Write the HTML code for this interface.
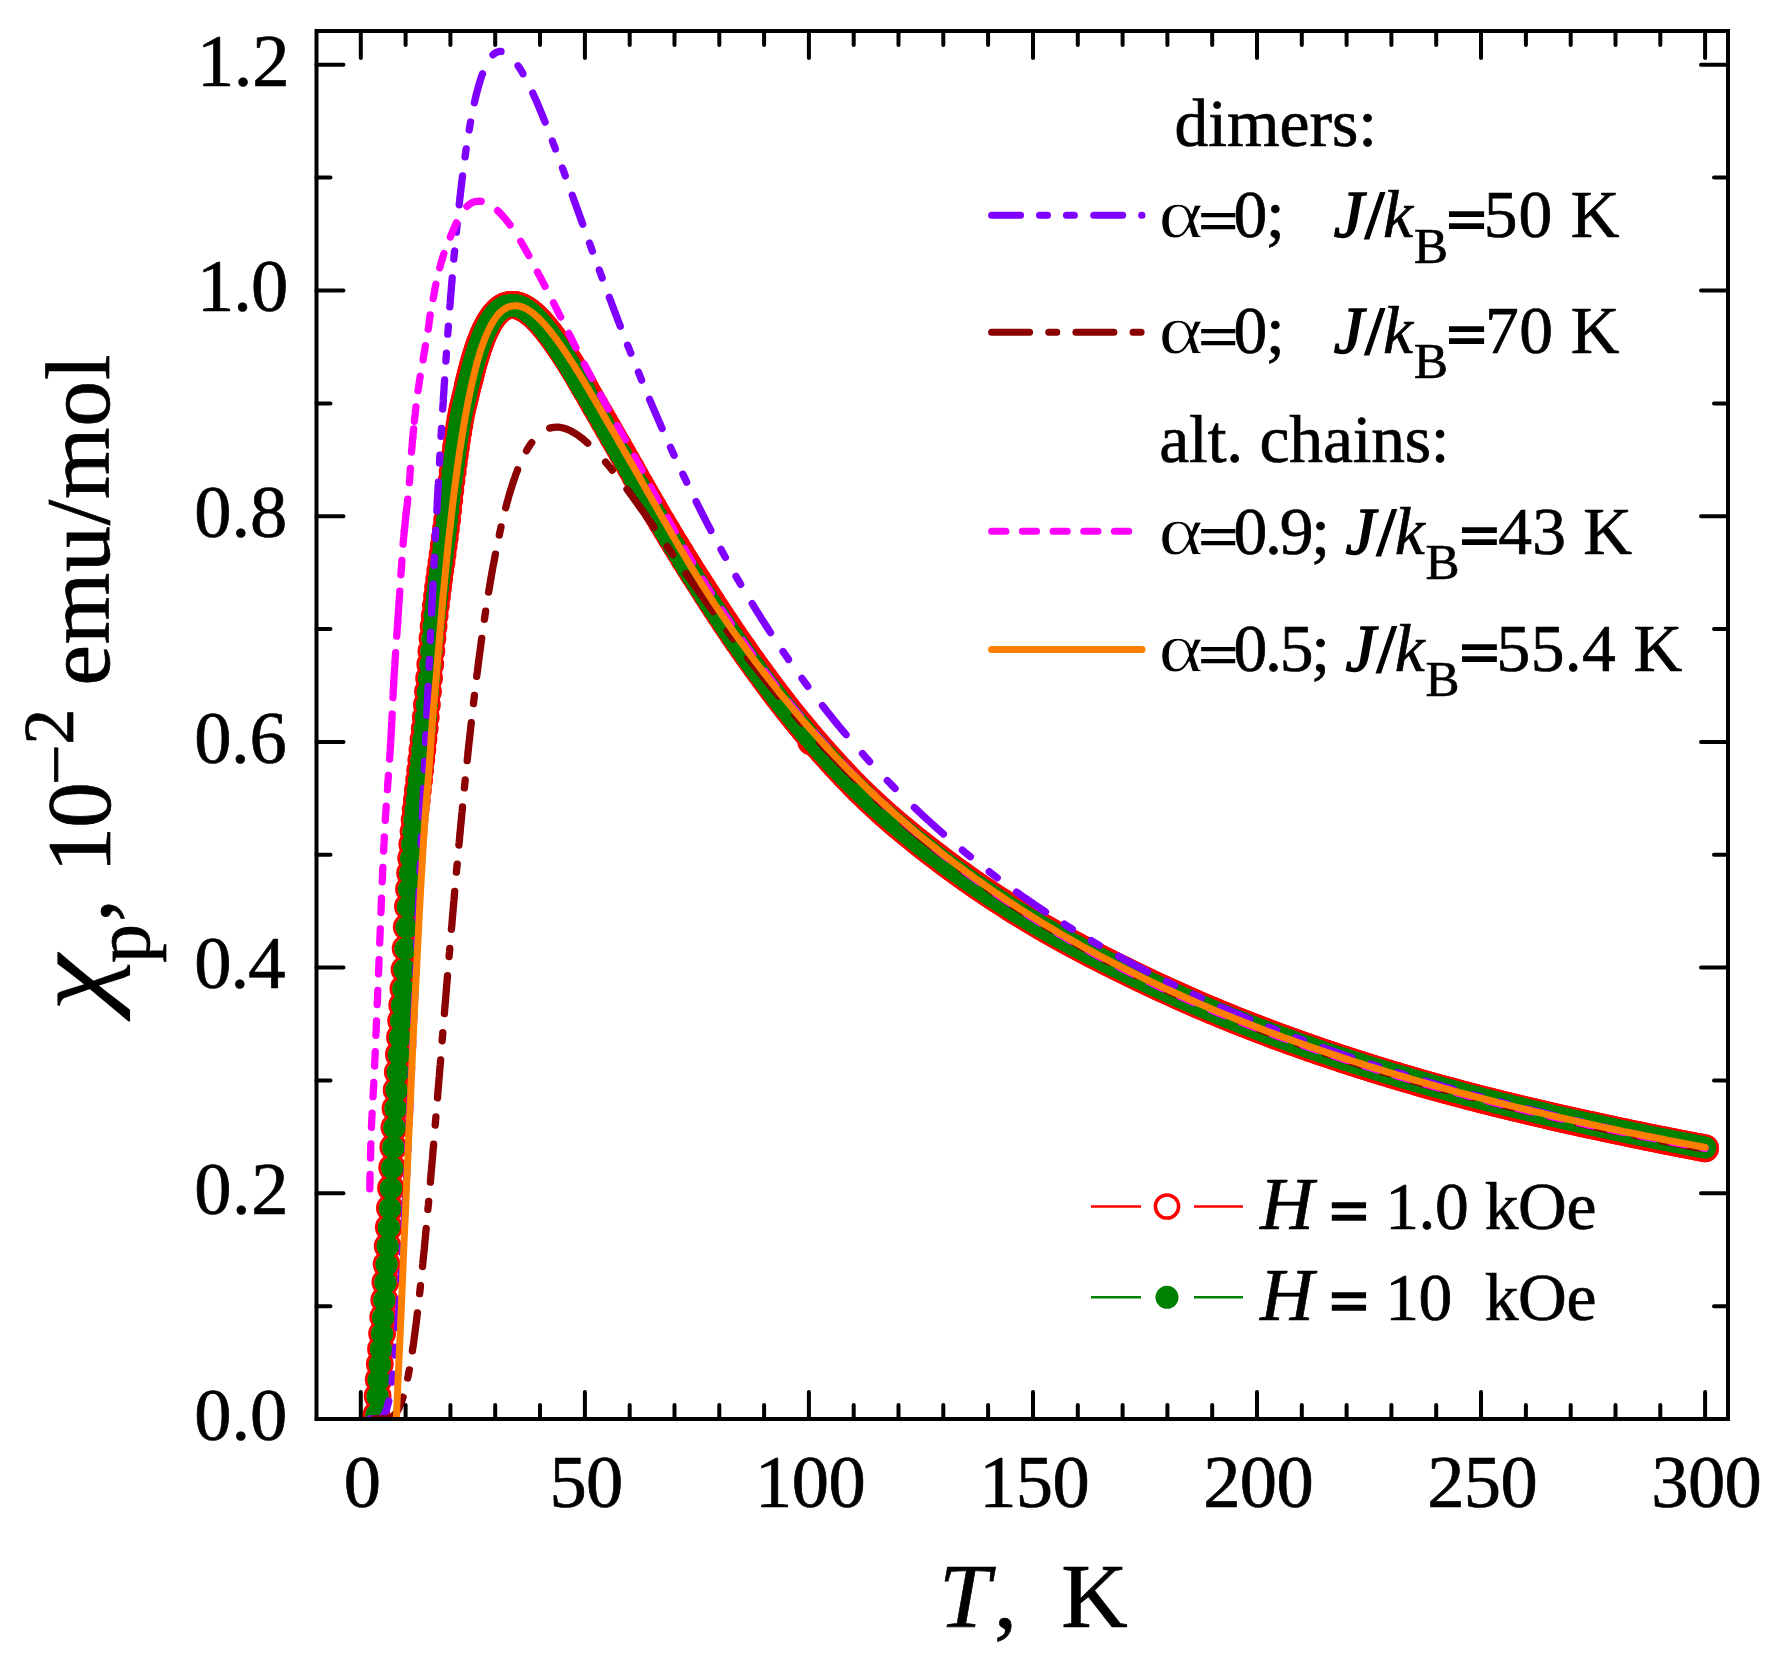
<!DOCTYPE html>
<html><head><meta charset="utf-8"><title>chi(T)</title>
<style>
html,body{margin:0;padding:0;background:#fff}
svg{display:block}
text{font-family:"Liberation Serif","DejaVu Serif",serif;fill:#000;stroke:#000;stroke-width:0.7px;stroke-linejoin:miter}
.tk{font-size:74px}
.lg{font-size:64.5px}
.hl{font-size:68px}
.ax{font-size:92px}
.i{font-style:italic}
</style></head><body>
<svg width="1784" height="1662" viewBox="0 0 1784 1662">
<rect width="1784" height="1662" fill="#fff"/>
<defs><clipPath id="cp"><rect x="316.5" y="31.0" width="1411.5" height="1388.0"/></clipPath></defs>

<g clip-path="url(#cp)">
<path d="M468.3,383.9 L469.5,379.2 L470.6,374.7 L471.7,370.3 L472.8,366.1 L473.9,362.1 L475.1,358.2 L476.2,354.5 L477.3,351.0 L478.4,347.6 L479.5,344.4 L480.7,341.3 L481.8,338.4 L482.9,335.6 L484.0,333.0 L485.1,330.5 L486.3,328.2 L487.4,326.0 L488.5,323.9 L489.6,322.0 L490.7,320.2 L491.9,318.5 L493.0,316.9 L494.1,315.4 L495.2,314.0 L496.4,312.8 L497.5,311.6 L498.6,310.5 L499.7,309.6 L500.8,308.7 L502.0,308.0 L503.1,307.3 L504.2,306.7 L505.3,306.2 L506.4,305.8 L507.6,305.5 L508.7,305.3 L509.8,305.1 L510.9,305.0 L512.0,304.9 L513.2,304.9 L514.3,305.0 L515.4,305.1 L516.5,305.4 L517.6,305.6 L518.8,306.0 L519.9,306.4 L521.0,306.9 L522.1,307.4 L523.3,308.0 L524.4,308.6 L525.6,309.3 L526.7,310.0 L527.9,310.8 L529.0,311.6 L530.1,312.5 L531.3,313.4 L532.4,314.4 L533.6,315.4 L534.7,316.4 L535.9,317.5 L537.0,318.6 L538.2,319.8 L539.3,321.0 L540.5,322.2 L541.6,323.5 L542.8,324.8 L543.9,326.1 L545.1,327.5 L546.2,328.9 L547.4,330.3 L548.5,331.8 L549.7,333.3 L550.8,334.8 L551.9,336.3 L553.1,337.8 L554.2,339.4 L555.4,341.0 L556.5,342.6 L557.7,344.3 L558.8,345.9 L560.0,347.6 L561.1,349.3 L562.3,351.0 L563.4,352.7 L564.6,354.5 L565.7,356.2 L566.9,358.0 L568.0,359.8 L569.2,361.6 L570.3,363.4 L571.5,365.3 L572.6,367.1 L573.7,369.0 L574.9,370.8 L576.0,372.7 L577.2,374.6 L578.3,376.5 L579.4,378.4 L580.5,380.4 L581.7,382.3 L582.8,384.2 L583.9,386.2 L585.0,388.2 L586.1,390.1 L590.6,398.0 L595.1,405.9 L599.6,413.7 L604.1,421.5 L608.6,429.3 L613.0,437.0 L617.5,444.8 L622.0,452.7 L626.5,460.5 L631.0,468.4 L635.4,476.4 L639.9,484.2 L644.4,492.1 L648.9,499.9 L653.4,507.6 L657.8,515.3 L662.3,522.9 L666.8,530.4 L671.3,537.9 L675.8,545.2 L680.3,552.5 L684.7,559.9 L689.2,567.0 L693.7,574.1 L698.2,581.1 L702.7,588.0 L707.1,595.0 L711.6,601.9 L716.0,608.7 L720.5,615.5 L724.9,622.2 L729.4,628.8 L733.8,635.4 L738.2,641.9 L742.7,648.2 L747.1,654.6 L751.6,660.8 L756.0,667.0 L760.5,673.2 L764.9,679.2 L769.4,685.3 L773.8,691.2 L778.2,697.0 L782.7,702.8 L787.1,708.5 L791.6,714.1 L796.0,719.6 L800.5,725.0 L804.9,730.4 L809.3,735.6 L813.8,740.8 L818.2,746.0 L822.7,751.1 L827.1,756.0 L831.6,761.0 L836.0,765.9 L840.5,770.6 L844.9,775.4 L849.3,780.0 L853.8,784.6 L858.2,789.1 L862.7,793.5 L867.2,797.8 L871.6,802.0 L876.1,806.2 L880.6,810.3 L885.1,814.3 L889.6,818.2 L894.0,822.1 L898.5,825.9 L903.0,829.6 L907.5,833.4 L912.0,837.0 L916.4,840.6 L920.9,844.2 L925.4,847.7 L929.9,851.2 L934.4,854.6 L938.8,858.0 L943.3,861.5 L947.8,864.8 L952.3,868.1 L956.8,871.4 L961.3,874.6 L965.7,877.8 L970.2,881.0 L974.7,884.1 L979.2,887.2 L983.7,890.2 L988.1,893.2 L992.6,896.2 L997.1,899.1 L1001.6,902.0 L1006.1,904.9 L1010.5,907.8 L1015.0,910.6 L1019.5,913.4 L1024.0,916.1 L1028.5,918.8 L1033.0,921.5 L1037.4,924.2 L1041.9,926.8 L1046.4,929.4 L1050.9,932.0 L1055.4,934.5 L1059.8,937.0 L1064.3,939.5 L1068.8,941.9 L1073.3,944.3 L1077.8,946.7 L1082.2,949.1 L1086.7,951.5 L1091.2,953.8 L1095.7,956.1 L1100.2,958.4 L1104.6,960.7 L1109.1,962.9 L1113.6,965.2 L1118.1,967.4 L1122.6,969.6 L1127.1,971.8 L1131.5,974.0 L1136.0,976.2 L1140.5,978.3 L1145.0,980.5 L1149.5,982.6 L1153.9,984.7 L1158.4,986.8 L1162.9,988.9 L1167.4,990.9 L1171.9,993.0 L1176.3,995.0 L1180.8,997.0 L1185.3,999.0 L1189.8,1001.0 L1194.3,1003.0 L1198.7,1004.9 L1203.2,1006.8 L1207.7,1008.7 L1212.2,1010.6 L1216.7,1012.5 L1221.2,1014.3 L1225.6,1016.2 L1230.1,1018.0 L1234.6,1019.8 L1239.1,1021.6 L1243.6,1023.4 L1248.0,1025.1 L1252.5,1026.9 L1257.0,1028.6 L1261.5,1030.3 L1266.0,1032.0 L1270.4,1033.7 L1274.9,1035.4 L1279.4,1037.1 L1283.9,1038.7 L1288.4,1040.3 L1292.8,1041.9 L1297.3,1043.5 L1301.8,1045.1 L1306.3,1046.7 L1310.8,1048.3 L1315.3,1049.8 L1319.7,1051.4 L1324.2,1052.9 L1328.7,1054.4 L1333.2,1055.9 L1337.7,1057.4 L1342.1,1058.9 L1346.6,1060.3 L1351.1,1061.8 L1355.6,1063.2 L1360.1,1064.7 L1364.5,1066.1 L1369.0,1067.5 L1373.5,1068.9 L1378.0,1070.3 L1382.5,1071.7 L1386.9,1073.0 L1391.4,1074.4 L1395.9,1075.7 L1400.4,1077.1 L1404.9,1078.4 L1409.4,1079.7 L1413.8,1081.0 L1418.3,1082.3 L1422.8,1083.6 L1427.3,1084.9 L1431.8,1086.1 L1436.2,1087.4 L1440.7,1088.6 L1445.2,1089.8 L1449.7,1091.0 L1454.2,1092.2 L1458.6,1093.4 L1463.1,1094.6 L1467.6,1095.8 L1472.1,1096.9 L1476.6,1098.1 L1481.0,1099.3 L1485.5,1100.4 L1490.0,1101.5 L1494.5,1102.7 L1499.0,1103.8 L1503.5,1104.9 L1507.9,1106.0 L1512.4,1107.1 L1516.9,1108.2 L1521.4,1109.2 L1525.9,1110.3 L1530.3,1111.4 L1534.8,1112.4 L1539.3,1113.5 L1543.8,1114.5 L1548.3,1115.6 L1552.7,1116.6 L1557.2,1117.6 L1561.7,1118.6 L1566.2,1119.6 L1570.7,1120.6 L1575.2,1121.6 L1579.6,1122.6 L1584.1,1123.6 L1588.6,1124.6 L1593.1,1125.5 L1597.6,1126.5 L1602.0,1127.5 L1606.5,1128.4 L1611.0,1129.4 L1615.5,1130.3 L1620.0,1131.3 L1624.4,1132.2 L1628.9,1133.2 L1633.4,1134.1 L1637.9,1135.0 L1642.4,1135.9 L1646.8,1136.8 L1651.3,1137.8 L1655.8,1138.7 L1660.3,1139.6 L1664.8,1140.5 L1669.3,1141.4 L1673.7,1142.2 L1678.2,1143.1 L1682.7,1144.0 L1687.2,1144.9 L1691.7,1145.7 L1696.1,1146.6 L1700.6,1147.5 L1705.1,1148.3" fill="none" stroke="#ff0000" stroke-width="27.8" stroke-linecap="round" stroke-linejoin="round"/>
<g fill="none" stroke="#ff0000" stroke-width="3">
<circle cx="376.5" cy="1414.5" r="12.4"/>
<circle cx="377.6" cy="1396.1" r="12.4"/>
<circle cx="378.7" cy="1379.6" r="12.4"/>
<circle cx="379.8" cy="1364.1" r="12.4"/>
<circle cx="381.0" cy="1349.0" r="12.4"/>
<circle cx="382.1" cy="1333.5" r="12.4"/>
<circle cx="383.2" cy="1317.0" r="12.4"/>
<circle cx="384.3" cy="1299.8" r="12.4"/>
<circle cx="385.4" cy="1282.2" r="12.4"/>
<circle cx="386.6" cy="1264.3" r="12.4"/>
<circle cx="387.7" cy="1246.0" r="12.4"/>
<circle cx="388.8" cy="1227.3" r="12.4"/>
<circle cx="389.9" cy="1208.1" r="12.4"/>
<circle cx="391.0" cy="1188.1" r="12.4"/>
<circle cx="392.2" cy="1167.6" r="12.4"/>
<circle cx="393.3" cy="1147.1" r="12.4"/>
<circle cx="394.4" cy="1127.3" r="12.4"/>
<circle cx="395.5" cy="1108.4" r="12.4"/>
<circle cx="396.6" cy="1090.0" r="12.4"/>
<circle cx="397.8" cy="1072.0" r="12.4"/>
<circle cx="398.9" cy="1054.4" r="12.4"/>
<circle cx="400.0" cy="1037.2" r="12.4"/>
<circle cx="401.1" cy="1020.6" r="12.4"/>
<circle cx="402.2" cy="1005.1" r="12.4"/>
<circle cx="403.4" cy="988.7" r="12.4"/>
<circle cx="404.5" cy="969.6" r="12.4"/>
<circle cx="405.6" cy="948.5" r="12.4"/>
<circle cx="406.7" cy="927.0" r="12.4"/>
<circle cx="407.9" cy="906.6" r="12.4"/>
<circle cx="409.0" cy="889.0" r="12.4"/>
<circle cx="410.1" cy="873.1" r="12.4"/>
<circle cx="411.2" cy="858.3" r="12.4"/>
<circle cx="412.3" cy="844.4" r="12.4"/>
<circle cx="413.5" cy="831.5" r="12.4"/>
<circle cx="414.6" cy="819.7" r="12.4"/>
<circle cx="415.7" cy="809.4" r="12.4"/>
<circle cx="416.8" cy="799.9" r="12.4"/>
<circle cx="417.9" cy="790.0" r="12.4"/>
<circle cx="419.1" cy="780.0" r="12.4"/>
<circle cx="420.2" cy="770.1" r="12.4"/>
<circle cx="421.3" cy="760.1" r="12.4"/>
<circle cx="422.4" cy="749.8" r="12.4"/>
<circle cx="423.5" cy="739.3" r="12.4"/>
<circle cx="424.7" cy="728.5" r="12.4"/>
<circle cx="425.8" cy="717.1" r="12.4"/>
<circle cx="426.9" cy="704.7" r="12.4"/>
<circle cx="428.0" cy="691.6" r="12.4"/>
<circle cx="429.1" cy="678.1" r="12.4"/>
<circle cx="430.3" cy="664.4" r="12.4"/>
<circle cx="431.4" cy="651.0" r="12.4"/>
<circle cx="432.5" cy="638.2" r="12.4"/>
<circle cx="433.6" cy="626.3" r="12.4"/>
<circle cx="434.7" cy="615.6" r="12.4"/>
<circle cx="435.9" cy="605.6" r="12.4"/>
<circle cx="437.0" cy="596.3" r="12.4"/>
<circle cx="438.1" cy="587.4" r="12.4"/>
<circle cx="439.2" cy="578.8" r="12.4"/>
<circle cx="440.3" cy="570.6" r="12.4"/>
<circle cx="441.5" cy="562.4" r="12.4"/>
<circle cx="442.6" cy="554.3" r="12.4"/>
<circle cx="443.7" cy="546.1" r="12.4"/>
<circle cx="444.8" cy="537.7" r="12.4"/>
<circle cx="445.9" cy="529.0" r="12.4"/>
<circle cx="447.1" cy="519.9" r="12.4"/>
<circle cx="448.2" cy="510.1" r="12.4"/>
<circle cx="449.3" cy="500.0" r="12.4"/>
<circle cx="450.4" cy="490.2" r="12.4"/>
<circle cx="451.5" cy="480.8" r="12.4"/>
<circle cx="452.7" cy="471.7" r="12.4"/>
<circle cx="453.8" cy="463.1" r="12.4"/>
<circle cx="454.9" cy="454.9" r="12.4"/>
<circle cx="456.0" cy="447.0" r="12.4"/>
<circle cx="457.1" cy="439.4" r="12.4"/>
<circle cx="458.3" cy="432.1" r="12.4"/>
<circle cx="459.4" cy="425.2" r="12.4"/>
<circle cx="460.5" cy="418.6" r="12.4"/>
<circle cx="461.6" cy="412.6" r="12.4"/>
<circle cx="462.7" cy="407.4" r="12.4"/>
<circle cx="463.9" cy="402.7" r="12.4"/>
<circle cx="465.0" cy="398.1" r="12.4"/>
<circle cx="466.1" cy="393.6" r="12.4"/>
<circle cx="467.2" cy="388.8" r="12.4"/>
<circle cx="468.3" cy="383.9" r="12.4"/>
<circle cx="469.5" cy="379.2" r="12.4"/>
<circle cx="470.6" cy="374.7" r="12.4"/>
<circle cx="471.7" cy="370.3" r="12.4"/>
<circle cx="472.8" cy="366.1" r="12.4"/>
<circle cx="473.9" cy="362.1" r="12.4"/>
<circle cx="475.1" cy="358.2" r="12.4"/>
<circle cx="476.2" cy="354.5" r="12.4"/>
<circle cx="477.3" cy="351.0" r="12.4"/>
<circle cx="478.4" cy="347.6" r="12.4"/>
<circle cx="479.5" cy="344.4" r="12.4"/>
<circle cx="480.7" cy="341.3" r="12.4"/>
<circle cx="481.8" cy="338.4" r="12.4"/>
<circle cx="482.9" cy="335.6" r="12.4"/>
<circle cx="484.0" cy="333.0" r="12.4"/>
<circle cx="485.1" cy="330.5" r="12.4"/>
<circle cx="486.3" cy="328.2" r="12.4"/>
<circle cx="487.4" cy="326.0" r="12.4"/>
<circle cx="488.5" cy="323.9" r="12.4"/>
<circle cx="489.6" cy="322.0" r="12.4"/>
<circle cx="490.7" cy="320.2" r="12.4"/>
<circle cx="491.9" cy="318.5" r="12.4"/>
<circle cx="493.0" cy="316.9" r="12.4"/>
<circle cx="494.1" cy="315.4" r="12.4"/>
<circle cx="495.2" cy="314.0" r="12.4"/>
<circle cx="496.4" cy="312.8" r="12.4"/>
<circle cx="497.5" cy="311.6" r="12.4"/>
<circle cx="498.6" cy="310.5" r="12.4"/>
<circle cx="499.7" cy="309.6" r="12.4"/>
<circle cx="500.8" cy="308.7" r="12.4"/>
<circle cx="502.0" cy="308.0" r="12.4"/>
<circle cx="503.1" cy="307.3" r="12.4"/>
<circle cx="504.2" cy="306.7" r="12.4"/>
<circle cx="505.3" cy="306.2" r="12.4"/>
<circle cx="506.4" cy="305.8" r="12.4"/>
<circle cx="507.6" cy="305.5" r="12.4"/>
<circle cx="508.7" cy="305.3" r="12.4"/>
<circle cx="509.8" cy="305.1" r="12.4"/>
<circle cx="510.9" cy="305.0" r="12.4"/>
<circle cx="512.0" cy="304.9" r="12.4"/>
<circle cx="513.2" cy="304.9" r="12.4"/>
<circle cx="514.3" cy="305.0" r="12.4"/>
<circle cx="515.4" cy="305.1" r="12.4"/>
<circle cx="516.5" cy="305.4" r="12.4"/>
<circle cx="517.6" cy="305.6" r="12.4"/>
<circle cx="518.8" cy="306.0" r="12.4"/>
<circle cx="519.9" cy="306.4" r="12.4"/>
<circle cx="521.0" cy="306.9" r="12.4"/>
<circle cx="522.1" cy="307.4" r="12.4"/>
<circle cx="523.3" cy="308.0" r="12.4"/>
<circle cx="524.4" cy="308.6" r="12.4"/>
<circle cx="525.6" cy="309.3" r="12.4"/>
<circle cx="526.7" cy="310.0" r="12.4"/>
<circle cx="527.9" cy="310.8" r="12.4"/>
<circle cx="529.0" cy="311.6" r="12.4"/>
<circle cx="530.1" cy="312.5" r="12.4"/>
<circle cx="531.3" cy="313.4" r="12.4"/>
<circle cx="532.4" cy="314.4" r="12.4"/>
<circle cx="533.6" cy="315.4" r="12.4"/>
<circle cx="534.7" cy="316.4" r="12.4"/>
<circle cx="535.9" cy="317.5" r="12.4"/>
<circle cx="537.0" cy="318.6" r="12.4"/>
<circle cx="538.2" cy="319.8" r="12.4"/>
<circle cx="539.3" cy="321.0" r="12.4"/>
<circle cx="540.5" cy="322.2" r="12.4"/>
<circle cx="541.6" cy="323.5" r="12.4"/>
<circle cx="542.8" cy="324.8" r="12.4"/>
<circle cx="543.9" cy="326.1" r="12.4"/>
<circle cx="545.1" cy="327.5" r="12.4"/>
<circle cx="546.2" cy="328.9" r="12.4"/>
<circle cx="547.4" cy="330.3" r="12.4"/>
<circle cx="548.5" cy="331.8" r="12.4"/>
<circle cx="549.7" cy="333.3" r="12.4"/>
<circle cx="550.8" cy="334.8" r="12.4"/>
<circle cx="551.9" cy="336.3" r="12.4"/>
<circle cx="553.1" cy="337.8" r="12.4"/>
<circle cx="554.2" cy="339.4" r="12.4"/>
<circle cx="555.4" cy="341.0" r="12.4"/>
<circle cx="556.5" cy="342.6" r="12.4"/>
<circle cx="557.7" cy="344.3" r="12.4"/>
<circle cx="558.8" cy="345.9" r="12.4"/>
<circle cx="560.0" cy="347.6" r="12.4"/>
<circle cx="561.1" cy="349.3" r="12.4"/>
<circle cx="562.3" cy="351.0" r="12.4"/>
<circle cx="563.4" cy="352.7" r="12.4"/>
<circle cx="564.6" cy="354.5" r="12.4"/>
<circle cx="565.7" cy="356.2" r="12.4"/>
<circle cx="566.9" cy="358.0" r="12.4"/>
<circle cx="568.0" cy="359.8" r="12.4"/>
<circle cx="569.2" cy="361.6" r="12.4"/>
<circle cx="570.3" cy="363.4" r="12.4"/>
<circle cx="571.5" cy="365.3" r="12.4"/>
<circle cx="572.6" cy="367.1" r="12.4"/>
<circle cx="573.7" cy="369.0" r="12.4"/>
<circle cx="574.9" cy="370.8" r="12.4"/>
<circle cx="576.0" cy="372.7" r="12.4"/>
<circle cx="577.2" cy="374.6" r="12.4"/>
<circle cx="578.3" cy="376.5" r="12.4"/>
<circle cx="579.4" cy="378.4" r="12.4"/>
<circle cx="580.5" cy="380.4" r="12.4"/>
<circle cx="581.7" cy="382.3" r="12.4"/>
<circle cx="582.8" cy="384.2" r="12.4"/>
<circle cx="583.9" cy="386.2" r="12.4"/>
<circle cx="585.0" cy="388.2" r="12.4"/>
<circle cx="586.1" cy="390.1" r="12.4"/>
<circle cx="590.6" cy="398.0" r="12.4"/>
<circle cx="595.1" cy="405.9" r="12.4"/>
<circle cx="599.6" cy="413.7" r="12.4"/>
<circle cx="604.1" cy="421.5" r="12.4"/>
<circle cx="608.6" cy="429.3" r="12.4"/>
<circle cx="613.0" cy="437.0" r="12.4"/>
<circle cx="617.5" cy="444.8" r="12.4"/>
<circle cx="622.0" cy="452.7" r="12.4"/>
<circle cx="626.5" cy="460.5" r="12.4"/>
<circle cx="631.0" cy="468.4" r="12.4"/>
<circle cx="635.4" cy="476.4" r="12.4"/>
<circle cx="639.9" cy="484.2" r="12.4"/>
<circle cx="644.4" cy="492.1" r="12.4"/>
<circle cx="648.9" cy="499.9" r="12.4"/>
<circle cx="653.4" cy="507.6" r="12.4"/>
<circle cx="657.8" cy="515.3" r="12.4"/>
<circle cx="662.3" cy="522.9" r="12.4"/>
<circle cx="666.8" cy="530.4" r="12.4"/>
<circle cx="671.3" cy="537.9" r="12.4"/>
<circle cx="675.8" cy="545.2" r="12.4"/>
<circle cx="680.3" cy="552.5" r="12.4"/>
<circle cx="684.7" cy="559.9" r="12.4"/>
<circle cx="689.2" cy="567.0" r="12.4"/>
<circle cx="693.7" cy="574.1" r="12.4"/>
<circle cx="698.2" cy="581.1" r="12.4"/>
<circle cx="702.7" cy="588.0" r="12.4"/>
<circle cx="707.1" cy="595.0" r="12.4"/>
<circle cx="711.6" cy="601.9" r="12.4"/>
<circle cx="716.0" cy="608.7" r="12.4"/>
<circle cx="720.5" cy="615.5" r="12.4"/>
<circle cx="724.9" cy="622.2" r="12.4"/>
<circle cx="729.4" cy="628.8" r="12.4"/>
<circle cx="733.8" cy="635.4" r="12.4"/>
<circle cx="738.2" cy="641.9" r="12.4"/>
<circle cx="742.7" cy="648.2" r="12.4"/>
<circle cx="747.1" cy="654.6" r="12.4"/>
<circle cx="751.6" cy="660.8" r="12.4"/>
<circle cx="756.0" cy="667.0" r="12.4"/>
<circle cx="760.5" cy="673.2" r="12.4"/>
<circle cx="764.9" cy="679.2" r="12.4"/>
<circle cx="769.4" cy="685.3" r="12.4"/>
<circle cx="773.8" cy="691.2" r="12.4"/>
<circle cx="778.2" cy="697.0" r="12.4"/>
<circle cx="782.7" cy="702.8" r="12.4"/>
<circle cx="787.1" cy="708.5" r="12.4"/>
<circle cx="791.6" cy="714.1" r="12.4"/>
<circle cx="796.0" cy="719.6" r="12.4"/>
<circle cx="800.5" cy="725.0" r="12.4"/>
<circle cx="804.9" cy="730.4" r="12.4"/>
<circle cx="809.3" cy="735.6" r="12.4"/>
<circle cx="813.8" cy="740.8" r="12.4"/>
<circle cx="818.2" cy="746.0" r="12.4"/>
<circle cx="822.7" cy="751.1" r="12.4"/>
<circle cx="827.1" cy="756.0" r="12.4"/>
<circle cx="831.6" cy="761.0" r="12.4"/>
<circle cx="836.0" cy="765.9" r="12.4"/>
<circle cx="840.5" cy="770.6" r="12.4"/>
<circle cx="844.9" cy="775.4" r="12.4"/>
<circle cx="849.3" cy="780.0" r="12.4"/>
<circle cx="853.8" cy="784.6" r="12.4"/>
<circle cx="858.2" cy="789.1" r="12.4"/>
<circle cx="862.7" cy="793.5" r="12.4"/>
<circle cx="867.2" cy="797.8" r="12.4"/>
<circle cx="871.6" cy="802.0" r="12.4"/>
<circle cx="876.1" cy="806.2" r="12.4"/>
<circle cx="880.6" cy="810.3" r="12.4"/>
<circle cx="885.1" cy="814.3" r="12.4"/>
<circle cx="889.6" cy="818.2" r="12.4"/>
<circle cx="894.0" cy="822.1" r="12.4"/>
<circle cx="898.5" cy="825.9" r="12.4"/>
<circle cx="903.0" cy="829.6" r="12.4"/>
<circle cx="907.5" cy="833.4" r="12.4"/>
<circle cx="912.0" cy="837.0" r="12.4"/>
<circle cx="916.4" cy="840.6" r="12.4"/>
<circle cx="920.9" cy="844.2" r="12.4"/>
<circle cx="925.4" cy="847.7" r="12.4"/>
<circle cx="929.9" cy="851.2" r="12.4"/>
<circle cx="934.4" cy="854.6" r="12.4"/>
<circle cx="938.8" cy="858.0" r="12.4"/>
<circle cx="943.3" cy="861.5" r="12.4"/>
<circle cx="947.8" cy="864.8" r="12.4"/>
<circle cx="952.3" cy="868.1" r="12.4"/>
<circle cx="956.8" cy="871.4" r="12.4"/>
<circle cx="961.3" cy="874.6" r="12.4"/>
<circle cx="965.7" cy="877.8" r="12.4"/>
<circle cx="970.2" cy="881.0" r="12.4"/>
<circle cx="974.7" cy="884.1" r="12.4"/>
<circle cx="979.2" cy="887.2" r="12.4"/>
<circle cx="983.7" cy="890.2" r="12.4"/>
<circle cx="988.1" cy="893.2" r="12.4"/>
<circle cx="992.6" cy="896.2" r="12.4"/>
<circle cx="997.1" cy="899.1" r="12.4"/>
<circle cx="1001.6" cy="902.0" r="12.4"/>
<circle cx="1006.1" cy="904.9" r="12.4"/>
<circle cx="1010.5" cy="907.8" r="12.4"/>
<circle cx="1015.0" cy="910.6" r="12.4"/>
<circle cx="1019.5" cy="913.4" r="12.4"/>
<circle cx="1024.0" cy="916.1" r="12.4"/>
<circle cx="1028.5" cy="918.8" r="12.4"/>
<circle cx="1033.0" cy="921.5" r="12.4"/>
<circle cx="1037.4" cy="924.2" r="12.4"/>
<circle cx="1041.9" cy="926.8" r="12.4"/>
<circle cx="1046.4" cy="929.4" r="12.4"/>
<circle cx="1050.9" cy="932.0" r="12.4"/>
<circle cx="1055.4" cy="934.5" r="12.4"/>
<circle cx="1059.8" cy="937.0" r="12.4"/>
<circle cx="1064.3" cy="939.5" r="12.4"/>
<circle cx="1068.8" cy="941.9" r="12.4"/>
<circle cx="1073.3" cy="944.3" r="12.4"/>
<circle cx="1077.8" cy="946.7" r="12.4"/>
<circle cx="1082.2" cy="949.1" r="12.4"/>
<circle cx="1086.7" cy="951.5" r="12.4"/>
<circle cx="1091.2" cy="953.8" r="12.4"/>
<circle cx="1095.7" cy="956.1" r="12.4"/>
<circle cx="1100.2" cy="958.4" r="12.4"/>
<circle cx="1104.6" cy="960.7" r="12.4"/>
<circle cx="1109.1" cy="962.9" r="12.4"/>
<circle cx="1113.6" cy="965.2" r="12.4"/>
<circle cx="1118.1" cy="967.4" r="12.4"/>
<circle cx="1122.6" cy="969.6" r="12.4"/>
<circle cx="1127.1" cy="971.8" r="12.4"/>
<circle cx="1131.5" cy="974.0" r="12.4"/>
<circle cx="1136.0" cy="976.2" r="12.4"/>
<circle cx="1140.5" cy="978.3" r="12.4"/>
<circle cx="1145.0" cy="980.5" r="12.4"/>
<circle cx="1149.5" cy="982.6" r="12.4"/>
<circle cx="1153.9" cy="984.7" r="12.4"/>
<circle cx="1158.4" cy="986.8" r="12.4"/>
<circle cx="1162.9" cy="988.9" r="12.4"/>
<circle cx="1167.4" cy="990.9" r="12.4"/>
<circle cx="1171.9" cy="993.0" r="12.4"/>
<circle cx="1176.3" cy="995.0" r="12.4"/>
<circle cx="1180.8" cy="997.0" r="12.4"/>
<circle cx="1185.3" cy="999.0" r="12.4"/>
<circle cx="1189.8" cy="1001.0" r="12.4"/>
<circle cx="1194.3" cy="1003.0" r="12.4"/>
<circle cx="1198.7" cy="1004.9" r="12.4"/>
<circle cx="1203.2" cy="1006.8" r="12.4"/>
<circle cx="1207.7" cy="1008.7" r="12.4"/>
<circle cx="1212.2" cy="1010.6" r="12.4"/>
<circle cx="1216.7" cy="1012.5" r="12.4"/>
<circle cx="1221.2" cy="1014.3" r="12.4"/>
<circle cx="1225.6" cy="1016.2" r="12.4"/>
<circle cx="1230.1" cy="1018.0" r="12.4"/>
<circle cx="1234.6" cy="1019.8" r="12.4"/>
<circle cx="1239.1" cy="1021.6" r="12.4"/>
<circle cx="1243.6" cy="1023.4" r="12.4"/>
<circle cx="1248.0" cy="1025.1" r="12.4"/>
<circle cx="1252.5" cy="1026.9" r="12.4"/>
<circle cx="1257.0" cy="1028.6" r="12.4"/>
<circle cx="1261.5" cy="1030.3" r="12.4"/>
<circle cx="1266.0" cy="1032.0" r="12.4"/>
<circle cx="1270.4" cy="1033.7" r="12.4"/>
<circle cx="1274.9" cy="1035.4" r="12.4"/>
<circle cx="1279.4" cy="1037.1" r="12.4"/>
<circle cx="1283.9" cy="1038.7" r="12.4"/>
<circle cx="1288.4" cy="1040.3" r="12.4"/>
<circle cx="1292.8" cy="1041.9" r="12.4"/>
<circle cx="1297.3" cy="1043.5" r="12.4"/>
<circle cx="1301.8" cy="1045.1" r="12.4"/>
<circle cx="1306.3" cy="1046.7" r="12.4"/>
<circle cx="1310.8" cy="1048.3" r="12.4"/>
<circle cx="1315.3" cy="1049.8" r="12.4"/>
<circle cx="1319.7" cy="1051.4" r="12.4"/>
<circle cx="1324.2" cy="1052.9" r="12.4"/>
<circle cx="1328.7" cy="1054.4" r="12.4"/>
<circle cx="1333.2" cy="1055.9" r="12.4"/>
<circle cx="1337.7" cy="1057.4" r="12.4"/>
<circle cx="1342.1" cy="1058.9" r="12.4"/>
<circle cx="1346.6" cy="1060.3" r="12.4"/>
<circle cx="1351.1" cy="1061.8" r="12.4"/>
<circle cx="1355.6" cy="1063.2" r="12.4"/>
<circle cx="1360.1" cy="1064.7" r="12.4"/>
<circle cx="1364.5" cy="1066.1" r="12.4"/>
<circle cx="1369.0" cy="1067.5" r="12.4"/>
<circle cx="1373.5" cy="1068.9" r="12.4"/>
<circle cx="1378.0" cy="1070.3" r="12.4"/>
<circle cx="1382.5" cy="1071.7" r="12.4"/>
<circle cx="1386.9" cy="1073.0" r="12.4"/>
<circle cx="1391.4" cy="1074.4" r="12.4"/>
<circle cx="1395.9" cy="1075.7" r="12.4"/>
<circle cx="1400.4" cy="1077.1" r="12.4"/>
<circle cx="1404.9" cy="1078.4" r="12.4"/>
<circle cx="1409.4" cy="1079.7" r="12.4"/>
<circle cx="1413.8" cy="1081.0" r="12.4"/>
<circle cx="1418.3" cy="1082.3" r="12.4"/>
<circle cx="1422.8" cy="1083.6" r="12.4"/>
<circle cx="1427.3" cy="1084.9" r="12.4"/>
<circle cx="1431.8" cy="1086.1" r="12.4"/>
<circle cx="1436.2" cy="1087.4" r="12.4"/>
<circle cx="1440.7" cy="1088.6" r="12.4"/>
<circle cx="1445.2" cy="1089.8" r="12.4"/>
<circle cx="1449.7" cy="1091.0" r="12.4"/>
<circle cx="1454.2" cy="1092.2" r="12.4"/>
<circle cx="1458.6" cy="1093.4" r="12.4"/>
<circle cx="1463.1" cy="1094.6" r="12.4"/>
<circle cx="1467.6" cy="1095.8" r="12.4"/>
<circle cx="1472.1" cy="1096.9" r="12.4"/>
<circle cx="1476.6" cy="1098.1" r="12.4"/>
<circle cx="1481.0" cy="1099.3" r="12.4"/>
<circle cx="1485.5" cy="1100.4" r="12.4"/>
<circle cx="1490.0" cy="1101.5" r="12.4"/>
<circle cx="1494.5" cy="1102.7" r="12.4"/>
<circle cx="1499.0" cy="1103.8" r="12.4"/>
<circle cx="1503.5" cy="1104.9" r="12.4"/>
<circle cx="1507.9" cy="1106.0" r="12.4"/>
<circle cx="1512.4" cy="1107.1" r="12.4"/>
<circle cx="1516.9" cy="1108.2" r="12.4"/>
<circle cx="1521.4" cy="1109.2" r="12.4"/>
<circle cx="1525.9" cy="1110.3" r="12.4"/>
<circle cx="1530.3" cy="1111.4" r="12.4"/>
<circle cx="1534.8" cy="1112.4" r="12.4"/>
<circle cx="1539.3" cy="1113.5" r="12.4"/>
<circle cx="1543.8" cy="1114.5" r="12.4"/>
<circle cx="1548.3" cy="1115.6" r="12.4"/>
<circle cx="1552.7" cy="1116.6" r="12.4"/>
<circle cx="1557.2" cy="1117.6" r="12.4"/>
<circle cx="1561.7" cy="1118.6" r="12.4"/>
<circle cx="1566.2" cy="1119.6" r="12.4"/>
<circle cx="1570.7" cy="1120.6" r="12.4"/>
<circle cx="1575.2" cy="1121.6" r="12.4"/>
<circle cx="1579.6" cy="1122.6" r="12.4"/>
<circle cx="1584.1" cy="1123.6" r="12.4"/>
<circle cx="1588.6" cy="1124.6" r="12.4"/>
<circle cx="1593.1" cy="1125.5" r="12.4"/>
<circle cx="1597.6" cy="1126.5" r="12.4"/>
<circle cx="1602.0" cy="1127.5" r="12.4"/>
<circle cx="1606.5" cy="1128.4" r="12.4"/>
<circle cx="1611.0" cy="1129.4" r="12.4"/>
<circle cx="1615.5" cy="1130.3" r="12.4"/>
<circle cx="1620.0" cy="1131.3" r="12.4"/>
<circle cx="1624.4" cy="1132.2" r="12.4"/>
<circle cx="1628.9" cy="1133.2" r="12.4"/>
<circle cx="1633.4" cy="1134.1" r="12.4"/>
<circle cx="1637.9" cy="1135.0" r="12.4"/>
<circle cx="1642.4" cy="1135.9" r="12.4"/>
<circle cx="1646.8" cy="1136.8" r="12.4"/>
<circle cx="1651.3" cy="1137.8" r="12.4"/>
<circle cx="1655.8" cy="1138.7" r="12.4"/>
<circle cx="1660.3" cy="1139.6" r="12.4"/>
<circle cx="1664.8" cy="1140.5" r="12.4"/>
<circle cx="1669.3" cy="1141.4" r="12.4"/>
<circle cx="1673.7" cy="1142.2" r="12.4"/>
<circle cx="1678.2" cy="1143.1" r="12.4"/>
<circle cx="1682.7" cy="1144.0" r="12.4"/>
<circle cx="1687.2" cy="1144.9" r="12.4"/>
<circle cx="1691.7" cy="1145.7" r="12.4"/>
<circle cx="1696.1" cy="1146.6" r="12.4"/>
<circle cx="1700.6" cy="1147.5" r="12.4"/>
<circle cx="1705.1" cy="1148.3" r="12.4"/>
</g>
<circle cx="811.2" cy="741.7" r="12.4" fill="none" stroke="#ff0000" stroke-width="3"/>
<g fill="#008000">
<circle cx="376.5" cy="1414.8" r="11.2"/>
<circle cx="377.6" cy="1396.4" r="11.2"/>
<circle cx="378.7" cy="1379.9" r="11.2"/>
<circle cx="379.8" cy="1364.4" r="11.2"/>
<circle cx="381.0" cy="1349.3" r="11.2"/>
<circle cx="382.1" cy="1333.8" r="11.2"/>
<circle cx="383.2" cy="1317.3" r="11.2"/>
<circle cx="384.3" cy="1300.1" r="11.2"/>
<circle cx="385.4" cy="1282.5" r="11.2"/>
<circle cx="386.6" cy="1264.6" r="11.2"/>
<circle cx="387.7" cy="1246.3" r="11.2"/>
<circle cx="388.8" cy="1227.6" r="11.2"/>
<circle cx="389.9" cy="1208.4" r="11.2"/>
<circle cx="391.0" cy="1188.4" r="11.2"/>
<circle cx="392.2" cy="1167.9" r="11.2"/>
<circle cx="393.3" cy="1147.4" r="11.2"/>
<circle cx="394.4" cy="1127.6" r="11.2"/>
<circle cx="395.5" cy="1108.7" r="11.2"/>
<circle cx="396.6" cy="1090.3" r="11.2"/>
<circle cx="397.8" cy="1072.3" r="11.2"/>
<circle cx="398.9" cy="1054.7" r="11.2"/>
<circle cx="400.0" cy="1037.5" r="11.2"/>
<circle cx="401.1" cy="1020.9" r="11.2"/>
<circle cx="402.2" cy="1005.4" r="11.2"/>
<circle cx="403.4" cy="989.0" r="11.2"/>
<circle cx="404.5" cy="969.9" r="11.2"/>
<circle cx="405.6" cy="948.8" r="11.2"/>
<circle cx="406.7" cy="927.3" r="11.2"/>
<circle cx="407.9" cy="906.9" r="11.2"/>
<circle cx="409.0" cy="889.3" r="11.2"/>
<circle cx="410.1" cy="873.4" r="11.2"/>
<circle cx="411.2" cy="858.6" r="11.2"/>
<circle cx="412.3" cy="844.7" r="11.2"/>
<circle cx="413.5" cy="831.8" r="11.2"/>
<circle cx="414.6" cy="820.0" r="11.2"/>
<circle cx="415.7" cy="809.7" r="11.2"/>
<circle cx="416.8" cy="800.2" r="11.2"/>
<circle cx="417.9" cy="790.3" r="11.2"/>
<circle cx="419.1" cy="780.3" r="11.2"/>
<circle cx="420.2" cy="770.4" r="11.2"/>
<circle cx="421.3" cy="760.4" r="11.2"/>
<circle cx="422.4" cy="750.1" r="11.2"/>
<circle cx="423.5" cy="739.6" r="11.2"/>
<circle cx="424.7" cy="728.8" r="11.2"/>
<circle cx="425.8" cy="717.4" r="11.2"/>
<circle cx="426.9" cy="705.0" r="11.2"/>
<circle cx="428.0" cy="691.9" r="11.2"/>
<circle cx="429.1" cy="678.4" r="11.2"/>
<circle cx="430.3" cy="664.7" r="11.2"/>
<circle cx="431.4" cy="651.3" r="11.2"/>
<circle cx="432.5" cy="638.5" r="11.2"/>
<circle cx="433.6" cy="626.6" r="11.2"/>
<circle cx="434.7" cy="615.9" r="11.2"/>
<circle cx="435.9" cy="605.9" r="11.2"/>
<circle cx="437.0" cy="596.6" r="11.2"/>
<circle cx="438.1" cy="587.7" r="11.2"/>
<circle cx="439.2" cy="579.1" r="11.2"/>
<circle cx="440.3" cy="570.9" r="11.2"/>
<circle cx="441.5" cy="562.7" r="11.2"/>
<circle cx="442.6" cy="554.6" r="11.2"/>
<circle cx="443.7" cy="546.4" r="11.2"/>
<circle cx="444.8" cy="538.0" r="11.2"/>
<circle cx="445.9" cy="529.3" r="11.2"/>
<circle cx="447.1" cy="520.2" r="11.2"/>
<circle cx="448.2" cy="510.4" r="11.2"/>
<circle cx="449.3" cy="500.3" r="11.2"/>
<circle cx="450.4" cy="490.5" r="11.2"/>
<circle cx="451.5" cy="481.1" r="11.2"/>
<circle cx="452.7" cy="472.0" r="11.2"/>
<circle cx="453.8" cy="463.4" r="11.2"/>
<circle cx="454.9" cy="455.2" r="11.2"/>
<circle cx="456.0" cy="447.3" r="11.2"/>
<circle cx="457.1" cy="439.7" r="11.2"/>
<circle cx="458.3" cy="432.4" r="11.2"/>
<circle cx="459.4" cy="425.5" r="11.2"/>
<circle cx="460.5" cy="418.9" r="11.2"/>
<circle cx="461.6" cy="412.9" r="11.2"/>
<circle cx="462.7" cy="407.7" r="11.2"/>
<circle cx="463.9" cy="403.0" r="11.2"/>
<circle cx="465.0" cy="398.4" r="11.2"/>
<circle cx="466.1" cy="393.9" r="11.2"/>
<circle cx="467.2" cy="389.1" r="11.2"/>
<circle cx="468.3" cy="384.2" r="11.2"/>
<circle cx="469.5" cy="379.5" r="11.2"/>
<circle cx="470.6" cy="375.0" r="11.2"/>
<circle cx="471.7" cy="370.6" r="11.2"/>
<circle cx="472.8" cy="366.4" r="11.2"/>
<circle cx="473.9" cy="362.4" r="11.2"/>
<circle cx="475.1" cy="358.5" r="11.2"/>
<circle cx="476.2" cy="354.8" r="11.2"/>
<circle cx="477.3" cy="351.3" r="11.2"/>
<circle cx="478.4" cy="347.9" r="11.2"/>
<circle cx="479.5" cy="344.7" r="11.2"/>
<circle cx="480.7" cy="341.6" r="11.2"/>
<circle cx="481.8" cy="338.7" r="11.2"/>
<circle cx="482.9" cy="335.9" r="11.2"/>
<circle cx="484.0" cy="333.3" r="11.2"/>
<circle cx="485.1" cy="330.8" r="11.2"/>
<circle cx="486.3" cy="328.5" r="11.2"/>
<circle cx="487.4" cy="326.3" r="11.2"/>
<circle cx="488.5" cy="324.2" r="11.2"/>
<circle cx="489.6" cy="322.3" r="11.2"/>
<circle cx="490.7" cy="320.5" r="11.2"/>
<circle cx="491.9" cy="318.8" r="11.2"/>
<circle cx="493.0" cy="317.2" r="11.2"/>
<circle cx="494.1" cy="315.7" r="11.2"/>
<circle cx="495.2" cy="314.3" r="11.2"/>
<circle cx="496.4" cy="313.1" r="11.2"/>
<circle cx="497.5" cy="311.9" r="11.2"/>
<circle cx="498.6" cy="310.8" r="11.2"/>
<circle cx="499.7" cy="309.9" r="11.2"/>
<circle cx="500.8" cy="309.0" r="11.2"/>
<circle cx="502.0" cy="308.3" r="11.2"/>
<circle cx="503.1" cy="307.6" r="11.2"/>
<circle cx="504.2" cy="307.0" r="11.2"/>
<circle cx="505.3" cy="306.5" r="11.2"/>
<circle cx="506.4" cy="306.1" r="11.2"/>
<circle cx="507.6" cy="305.8" r="11.2"/>
<circle cx="508.7" cy="305.6" r="11.2"/>
<circle cx="509.8" cy="305.4" r="11.2"/>
<circle cx="510.9" cy="305.3" r="11.2"/>
<circle cx="512.0" cy="305.2" r="11.2"/>
<circle cx="513.2" cy="305.2" r="11.2"/>
<circle cx="514.3" cy="305.3" r="11.2"/>
<circle cx="515.4" cy="305.4" r="11.2"/>
<circle cx="516.5" cy="305.7" r="11.2"/>
<circle cx="517.6" cy="305.9" r="11.2"/>
<circle cx="518.8" cy="306.3" r="11.2"/>
<circle cx="519.9" cy="306.7" r="11.2"/>
<circle cx="521.0" cy="307.2" r="11.2"/>
<circle cx="522.1" cy="307.7" r="11.2"/>
<circle cx="523.2" cy="308.3" r="11.2"/>
<circle cx="524.4" cy="308.9" r="11.2"/>
<circle cx="525.5" cy="309.6" r="11.2"/>
<circle cx="526.6" cy="310.4" r="11.2"/>
<circle cx="527.7" cy="311.2" r="11.2"/>
<circle cx="528.8" cy="312.0" r="11.2"/>
<circle cx="530.0" cy="312.9" r="11.2"/>
<circle cx="531.1" cy="313.9" r="11.2"/>
<circle cx="532.2" cy="314.8" r="11.2"/>
<circle cx="533.3" cy="315.9" r="11.2"/>
<circle cx="534.4" cy="316.9" r="11.2"/>
<circle cx="535.6" cy="318.0" r="11.2"/>
<circle cx="536.7" cy="319.2" r="11.2"/>
<circle cx="537.8" cy="320.4" r="11.2"/>
<circle cx="538.9" cy="321.6" r="11.2"/>
<circle cx="540.0" cy="322.8" r="11.2"/>
<circle cx="541.2" cy="324.1" r="11.2"/>
<circle cx="542.3" cy="325.4" r="11.2"/>
<circle cx="543.4" cy="326.8" r="11.2"/>
<circle cx="544.5" cy="328.2" r="11.2"/>
<circle cx="545.6" cy="329.6" r="11.2"/>
<circle cx="546.8" cy="331.0" r="11.2"/>
<circle cx="547.9" cy="332.5" r="11.2"/>
<circle cx="549.0" cy="334.0" r="11.2"/>
<circle cx="550.1" cy="335.5" r="11.2"/>
<circle cx="551.2" cy="337.1" r="11.2"/>
<circle cx="552.4" cy="338.6" r="11.2"/>
<circle cx="553.5" cy="340.2" r="11.2"/>
<circle cx="554.6" cy="341.9" r="11.2"/>
<circle cx="555.7" cy="343.5" r="11.2"/>
<circle cx="556.8" cy="345.1" r="11.2"/>
<circle cx="558.0" cy="346.8" r="11.2"/>
<circle cx="559.1" cy="348.5" r="11.2"/>
<circle cx="560.2" cy="350.2" r="11.2"/>
<circle cx="561.3" cy="352.0" r="11.2"/>
<circle cx="562.4" cy="353.7" r="11.2"/>
<circle cx="563.6" cy="355.5" r="11.2"/>
<circle cx="564.7" cy="357.3" r="11.2"/>
<circle cx="565.8" cy="359.0" r="11.2"/>
<circle cx="566.9" cy="360.9" r="11.2"/>
<circle cx="568.0" cy="362.7" r="11.2"/>
<circle cx="569.2" cy="364.5" r="11.2"/>
<circle cx="570.3" cy="366.4" r="11.2"/>
<circle cx="571.4" cy="368.2" r="11.2"/>
<circle cx="572.5" cy="370.1" r="11.2"/>
<circle cx="573.6" cy="372.0" r="11.2"/>
<circle cx="574.8" cy="373.9" r="11.2"/>
<circle cx="575.9" cy="375.8" r="11.2"/>
<circle cx="577.0" cy="377.7" r="11.2"/>
<circle cx="578.1" cy="379.6" r="11.2"/>
<circle cx="579.2" cy="381.6" r="11.2"/>
<circle cx="580.4" cy="383.5" r="11.2"/>
<circle cx="581.5" cy="385.4" r="11.2"/>
<circle cx="582.6" cy="387.4" r="11.2"/>
<circle cx="583.7" cy="389.4" r="11.2"/>
<circle cx="584.9" cy="391.3" r="11.2"/>
<circle cx="589.3" cy="399.2" r="11.2"/>
<circle cx="593.8" cy="407.1" r="11.2"/>
<circle cx="598.3" cy="414.9" r="11.2"/>
<circle cx="602.8" cy="422.7" r="11.2"/>
<circle cx="607.3" cy="430.5" r="11.2"/>
<circle cx="611.7" cy="438.2" r="11.2"/>
<circle cx="616.2" cy="446.0" r="11.2"/>
<circle cx="620.7" cy="453.9" r="11.2"/>
<circle cx="625.2" cy="461.7" r="11.2"/>
<circle cx="629.7" cy="469.6" r="11.2"/>
<circle cx="634.1" cy="477.6" r="11.2"/>
<circle cx="638.6" cy="485.4" r="11.2"/>
<circle cx="643.1" cy="493.3" r="11.2"/>
<circle cx="647.6" cy="501.1" r="11.2"/>
<circle cx="652.1" cy="508.8" r="11.2"/>
<circle cx="656.5" cy="516.5" r="11.2"/>
<circle cx="661.0" cy="524.1" r="11.2"/>
<circle cx="665.5" cy="531.6" r="11.2"/>
<circle cx="670.0" cy="539.1" r="11.2"/>
<circle cx="674.5" cy="546.4" r="11.2"/>
<circle cx="679.0" cy="553.7" r="11.2"/>
<circle cx="683.4" cy="561.1" r="11.2"/>
<circle cx="687.9" cy="568.2" r="11.2"/>
<circle cx="692.4" cy="575.3" r="11.2"/>
<circle cx="696.9" cy="582.3" r="11.2"/>
<circle cx="701.4" cy="589.2" r="11.2"/>
<circle cx="705.8" cy="596.2" r="11.2"/>
<circle cx="710.3" cy="603.1" r="11.2"/>
<circle cx="714.8" cy="609.8" r="11.2"/>
<circle cx="719.3" cy="616.6" r="11.2"/>
<circle cx="723.8" cy="623.3" r="11.2"/>
<circle cx="728.2" cy="629.9" r="11.2"/>
<circle cx="732.7" cy="636.5" r="11.2"/>
<circle cx="737.2" cy="642.9" r="11.2"/>
<circle cx="741.7" cy="649.2" r="11.2"/>
<circle cx="746.2" cy="655.6" r="11.2"/>
<circle cx="750.6" cy="661.8" r="11.2"/>
<circle cx="755.1" cy="668.0" r="11.2"/>
<circle cx="759.6" cy="674.1" r="11.2"/>
<circle cx="764.1" cy="680.1" r="11.2"/>
<circle cx="768.6" cy="686.1" r="11.2"/>
<circle cx="773.1" cy="692.0" r="11.2"/>
<circle cx="777.5" cy="697.8" r="11.2"/>
<circle cx="782.0" cy="703.6" r="11.2"/>
<circle cx="786.5" cy="709.2" r="11.2"/>
<circle cx="791.0" cy="714.8" r="11.2"/>
<circle cx="795.5" cy="720.3" r="11.2"/>
<circle cx="799.9" cy="725.7" r="11.2"/>
<circle cx="804.4" cy="731.0" r="11.2"/>
<circle cx="808.9" cy="736.3" r="11.2"/>
<circle cx="813.4" cy="741.4" r="11.2"/>
<circle cx="817.9" cy="746.5" r="11.2"/>
<circle cx="822.3" cy="751.6" r="11.2"/>
<circle cx="826.8" cy="756.5" r="11.2"/>
<circle cx="831.3" cy="761.5" r="11.2"/>
<circle cx="835.8" cy="766.3" r="11.2"/>
<circle cx="840.3" cy="771.1" r="11.2"/>
<circle cx="844.7" cy="775.8" r="11.2"/>
<circle cx="849.2" cy="780.4" r="11.2"/>
<circle cx="853.7" cy="784.9" r="11.2"/>
<circle cx="858.2" cy="789.4" r="11.2"/>
<circle cx="862.7" cy="793.8" r="11.2"/>
<circle cx="867.2" cy="798.1" r="11.2"/>
<circle cx="871.6" cy="802.3" r="11.2"/>
<circle cx="876.1" cy="806.5" r="11.2"/>
<circle cx="880.6" cy="810.6" r="11.2"/>
<circle cx="885.1" cy="814.6" r="11.2"/>
<circle cx="889.6" cy="818.5" r="11.2"/>
<circle cx="894.0" cy="822.4" r="11.2"/>
<circle cx="898.5" cy="826.2" r="11.2"/>
<circle cx="903.0" cy="829.9" r="11.2"/>
<circle cx="907.5" cy="833.7" r="11.2"/>
<circle cx="912.0" cy="837.3" r="11.2"/>
<circle cx="916.4" cy="840.9" r="11.2"/>
<circle cx="920.9" cy="844.5" r="11.2"/>
<circle cx="925.4" cy="848.0" r="11.2"/>
<circle cx="929.9" cy="851.5" r="11.2"/>
<circle cx="934.4" cy="854.9" r="11.2"/>
<circle cx="938.8" cy="858.3" r="11.2"/>
<circle cx="943.3" cy="861.8" r="11.2"/>
<circle cx="947.8" cy="865.1" r="11.2"/>
<circle cx="952.3" cy="868.4" r="11.2"/>
<circle cx="956.8" cy="871.7" r="11.2"/>
<circle cx="961.3" cy="874.9" r="11.2"/>
<circle cx="965.7" cy="878.1" r="11.2"/>
<circle cx="970.2" cy="881.3" r="11.2"/>
<circle cx="974.7" cy="884.4" r="11.2"/>
<circle cx="979.2" cy="887.5" r="11.2"/>
<circle cx="983.7" cy="890.5" r="11.2"/>
<circle cx="988.1" cy="893.5" r="11.2"/>
<circle cx="992.6" cy="896.5" r="11.2"/>
<circle cx="997.1" cy="899.4" r="11.2"/>
<circle cx="1001.6" cy="902.3" r="11.2"/>
<circle cx="1006.1" cy="905.2" r="11.2"/>
<circle cx="1010.5" cy="908.1" r="11.2"/>
<circle cx="1015.0" cy="910.9" r="11.2"/>
<circle cx="1019.5" cy="913.7" r="11.2"/>
<circle cx="1024.0" cy="916.4" r="11.2"/>
<circle cx="1028.5" cy="919.1" r="11.2"/>
<circle cx="1033.0" cy="921.8" r="11.2"/>
<circle cx="1037.4" cy="924.5" r="11.2"/>
<circle cx="1041.9" cy="927.1" r="11.2"/>
<circle cx="1046.4" cy="929.7" r="11.2"/>
<circle cx="1050.9" cy="932.3" r="11.2"/>
<circle cx="1055.4" cy="934.8" r="11.2"/>
<circle cx="1059.8" cy="937.3" r="11.2"/>
<circle cx="1064.3" cy="939.8" r="11.2"/>
<circle cx="1068.8" cy="942.2" r="11.2"/>
<circle cx="1073.3" cy="944.6" r="11.2"/>
<circle cx="1077.8" cy="947.0" r="11.2"/>
<circle cx="1082.2" cy="949.4" r="11.2"/>
<circle cx="1086.7" cy="951.8" r="11.2"/>
<circle cx="1091.2" cy="954.1" r="11.2"/>
<circle cx="1095.7" cy="956.4" r="11.2"/>
<circle cx="1100.2" cy="958.7" r="11.2"/>
<circle cx="1104.6" cy="961.0" r="11.2"/>
<circle cx="1109.1" cy="963.2" r="11.2"/>
<circle cx="1113.6" cy="965.5" r="11.2"/>
<circle cx="1118.1" cy="967.7" r="11.2"/>
<circle cx="1122.6" cy="969.9" r="11.2"/>
<circle cx="1127.1" cy="972.1" r="11.2"/>
<circle cx="1131.5" cy="974.3" r="11.2"/>
<circle cx="1136.0" cy="976.5" r="11.2"/>
<circle cx="1140.5" cy="978.6" r="11.2"/>
<circle cx="1145.0" cy="980.8" r="11.2"/>
<circle cx="1149.5" cy="982.9" r="11.2"/>
<circle cx="1153.9" cy="985.0" r="11.2"/>
<circle cx="1158.4" cy="987.1" r="11.2"/>
<circle cx="1162.9" cy="989.2" r="11.2"/>
<circle cx="1167.4" cy="991.2" r="11.2"/>
<circle cx="1171.9" cy="993.3" r="11.2"/>
<circle cx="1176.3" cy="995.3" r="11.2"/>
<circle cx="1180.8" cy="997.3" r="11.2"/>
<circle cx="1185.3" cy="999.3" r="11.2"/>
<circle cx="1189.8" cy="1001.2" r="11.2"/>
<circle cx="1194.3" cy="1003.2" r="11.2"/>
<circle cx="1198.7" cy="1005.1" r="11.2"/>
<circle cx="1203.2" cy="1007.0" r="11.2"/>
<circle cx="1207.7" cy="1008.9" r="11.2"/>
<circle cx="1212.2" cy="1010.7" r="11.2"/>
<circle cx="1216.7" cy="1012.6" r="11.2"/>
<circle cx="1221.2" cy="1014.4" r="11.2"/>
<circle cx="1225.6" cy="1016.3" r="11.2"/>
<circle cx="1230.1" cy="1018.1" r="11.2"/>
<circle cx="1234.6" cy="1019.9" r="11.2"/>
<circle cx="1239.1" cy="1021.6" r="11.2"/>
<circle cx="1243.6" cy="1023.4" r="11.2"/>
<circle cx="1248.0" cy="1025.1" r="11.2"/>
<circle cx="1252.5" cy="1026.9" r="11.2"/>
<circle cx="1257.0" cy="1028.6" r="11.2"/>
<circle cx="1261.5" cy="1030.3" r="11.2"/>
<circle cx="1266.0" cy="1032.0" r="11.2"/>
<circle cx="1270.4" cy="1033.6" r="11.2"/>
<circle cx="1274.9" cy="1035.3" r="11.2"/>
<circle cx="1279.4" cy="1036.9" r="11.2"/>
<circle cx="1283.9" cy="1038.6" r="11.2"/>
<circle cx="1288.4" cy="1040.2" r="11.2"/>
<circle cx="1292.8" cy="1041.8" r="11.2"/>
<circle cx="1297.3" cy="1043.4" r="11.2"/>
<circle cx="1301.8" cy="1044.9" r="11.2"/>
<circle cx="1306.3" cy="1046.5" r="11.2"/>
<circle cx="1310.8" cy="1048.0" r="11.2"/>
<circle cx="1315.3" cy="1049.6" r="11.2"/>
<circle cx="1319.7" cy="1051.1" r="11.2"/>
<circle cx="1324.2" cy="1052.6" r="11.2"/>
<circle cx="1328.7" cy="1054.1" r="11.2"/>
<circle cx="1333.2" cy="1055.6" r="11.2"/>
<circle cx="1337.7" cy="1057.1" r="11.2"/>
<circle cx="1342.1" cy="1058.5" r="11.2"/>
<circle cx="1346.6" cy="1060.0" r="11.2"/>
<circle cx="1351.1" cy="1061.4" r="11.2"/>
<circle cx="1355.6" cy="1062.8" r="11.2"/>
<circle cx="1360.1" cy="1064.3" r="11.2"/>
<circle cx="1364.5" cy="1065.7" r="11.2"/>
<circle cx="1369.0" cy="1067.1" r="11.2"/>
<circle cx="1373.5" cy="1068.4" r="11.2"/>
<circle cx="1378.0" cy="1069.8" r="11.2"/>
<circle cx="1382.5" cy="1071.2" r="11.2"/>
<circle cx="1386.9" cy="1072.5" r="11.2"/>
<circle cx="1391.4" cy="1073.9" r="11.2"/>
<circle cx="1395.9" cy="1075.2" r="11.2"/>
<circle cx="1400.4" cy="1076.5" r="11.2"/>
<circle cx="1404.9" cy="1077.8" r="11.2"/>
<circle cx="1409.4" cy="1079.1" r="11.2"/>
<circle cx="1413.8" cy="1080.4" r="11.2"/>
<circle cx="1418.3" cy="1081.7" r="11.2"/>
<circle cx="1422.8" cy="1082.9" r="11.2"/>
<circle cx="1427.3" cy="1084.2" r="11.2"/>
<circle cx="1431.8" cy="1085.4" r="11.2"/>
<circle cx="1436.2" cy="1086.7" r="11.2"/>
<circle cx="1440.7" cy="1087.9" r="11.2"/>
<circle cx="1445.2" cy="1089.1" r="11.2"/>
<circle cx="1449.7" cy="1090.3" r="11.2"/>
<circle cx="1454.2" cy="1091.5" r="11.2"/>
<circle cx="1458.6" cy="1092.7" r="11.2"/>
<circle cx="1463.1" cy="1093.9" r="11.2"/>
<circle cx="1467.6" cy="1095.1" r="11.2"/>
<circle cx="1472.1" cy="1096.2" r="11.2"/>
<circle cx="1476.6" cy="1097.4" r="11.2"/>
<circle cx="1481.0" cy="1098.6" r="11.2"/>
<circle cx="1485.5" cy="1099.7" r="11.2"/>
<circle cx="1490.0" cy="1100.8" r="11.2"/>
<circle cx="1494.5" cy="1102.0" r="11.2"/>
<circle cx="1499.0" cy="1103.1" r="11.2"/>
<circle cx="1503.5" cy="1104.2" r="11.2"/>
<circle cx="1507.9" cy="1105.3" r="11.2"/>
<circle cx="1512.4" cy="1106.4" r="11.2"/>
<circle cx="1516.9" cy="1107.5" r="11.2"/>
<circle cx="1521.4" cy="1108.5" r="11.2"/>
<circle cx="1525.9" cy="1109.6" r="11.2"/>
<circle cx="1530.3" cy="1110.7" r="11.2"/>
<circle cx="1534.8" cy="1111.7" r="11.2"/>
<circle cx="1539.3" cy="1112.8" r="11.2"/>
<circle cx="1543.8" cy="1113.8" r="11.2"/>
<circle cx="1548.3" cy="1114.9" r="11.2"/>
<circle cx="1552.7" cy="1115.9" r="11.2"/>
<circle cx="1557.2" cy="1116.9" r="11.2"/>
<circle cx="1561.7" cy="1117.9" r="11.2"/>
<circle cx="1566.2" cy="1118.9" r="11.2"/>
<circle cx="1570.7" cy="1119.9" r="11.2"/>
<circle cx="1575.2" cy="1120.9" r="11.2"/>
<circle cx="1579.6" cy="1121.9" r="11.2"/>
<circle cx="1584.1" cy="1122.9" r="11.2"/>
<circle cx="1588.6" cy="1123.9" r="11.2"/>
<circle cx="1593.1" cy="1124.8" r="11.2"/>
<circle cx="1597.6" cy="1125.8" r="11.2"/>
<circle cx="1602.0" cy="1126.8" r="11.2"/>
<circle cx="1606.5" cy="1127.7" r="11.2"/>
<circle cx="1611.0" cy="1128.7" r="11.2"/>
<circle cx="1615.5" cy="1129.6" r="11.2"/>
<circle cx="1620.0" cy="1130.6" r="11.2"/>
<circle cx="1624.4" cy="1131.5" r="11.2"/>
<circle cx="1628.9" cy="1132.5" r="11.2"/>
<circle cx="1633.4" cy="1133.4" r="11.2"/>
<circle cx="1637.9" cy="1134.3" r="11.2"/>
<circle cx="1642.4" cy="1135.2" r="11.2"/>
<circle cx="1646.8" cy="1136.1" r="11.2"/>
<circle cx="1651.3" cy="1137.1" r="11.2"/>
<circle cx="1655.8" cy="1138.0" r="11.2"/>
<circle cx="1660.3" cy="1138.9" r="11.2"/>
<circle cx="1664.8" cy="1139.8" r="11.2"/>
<circle cx="1669.3" cy="1140.7" r="11.2"/>
<circle cx="1673.7" cy="1141.5" r="11.2"/>
<circle cx="1678.2" cy="1142.4" r="11.2"/>
<circle cx="1682.7" cy="1143.3" r="11.2"/>
<circle cx="1687.2" cy="1144.2" r="11.2"/>
<circle cx="1691.7" cy="1145.0" r="11.2"/>
<circle cx="1696.1" cy="1145.9" r="11.2"/>
<circle cx="1700.6" cy="1146.8" r="11.2"/>
<circle cx="1705.1" cy="1147.6" r="11.2"/>
</g>
<path d="M369.8,1419.0 372.3,1419.0 374.8,1419.0 377.2,1418.9 379.4,1418.5 381.1,1417.8 382.6,1416.6 383.7,1415.2 384.7,1413.6 385.5,1411.8 386.3,1410.0 386.9,1408.0 387.5,1406.0 388.0,1404.0 388.5,1402.0 388.8,1401.0M392.0,1382.1 392.3,1379.7 392.6,1377.3 392.9,1374.7 393.0,1374.1M395.0,1355.2 395.3,1352.5 395.5,1350.1 395.8,1347.7 395.8,1347.2M397.4,1327.9 397.6,1325.3 397.9,1322.4 398.0,1320.0 398.2,1317.6 398.4,1315.2 398.6,1312.8 398.8,1310.3 398.9,1307.8 399.1,1305.3 399.3,1302.7 399.5,1300.1 399.6,1298.9M400.8,1280.0 400.9,1277.5 401.1,1274.7 401.3,1272.0M402.4,1253.1 402.6,1250.0 402.8,1246.8 402.9,1245.1M404.0,1225.8 404.1,1222.7 404.3,1220.2 404.4,1217.7 404.5,1215.1 404.7,1212.6 404.8,1210.1 404.9,1207.5 405.1,1204.9 405.2,1202.3 405.3,1199.7 405.5,1197.1 405.5,1196.8M406.5,1177.9 406.6,1174.9 406.7,1172.2 406.8,1169.9M407.8,1151.0 407.9,1148.2 408.0,1145.4 408.1,1143.0M409.1,1123.7 409.2,1120.6 409.3,1117.7 409.5,1114.8 409.6,1111.9 409.7,1109.0 409.9,1106.0 410.0,1103.1 410.1,1100.1 410.3,1097.2 410.4,1094.7M411.2,1075.8 411.3,1073.2 411.5,1070.2 411.6,1067.8M412.4,1048.9 412.6,1045.9 412.7,1042.8 412.8,1040.9M413.6,1021.6 413.7,1019.1 413.9,1016.0 414.0,1012.9 414.1,1009.8 414.3,1006.7 414.4,1003.5 414.5,1000.4 414.7,997.3 414.8,994.1 414.9,992.6M415.7,973.7 415.8,971.1 415.9,968.0 416.0,965.7M416.8,946.8 416.9,943.7 417.1,940.6 417.2,938.8M418.0,919.5 418.1,916.3 418.2,913.1 418.4,909.9 418.5,906.8 418.6,903.6 418.8,900.4 418.9,897.3 419.1,894.1 419.2,890.9 419.2,890.5M420.0,871.6 420.1,868.8 420.3,865.6 420.4,863.6M421.2,844.7 421.3,841.5 421.4,838.3 421.5,836.7M422.3,817.4 422.5,814.3 422.6,811.2 422.7,808.1 422.9,805.0 423.0,801.9 423.1,798.8 423.3,795.7 423.4,792.6 423.5,789.5 423.6,788.4M424.4,769.5 424.5,766.9 424.7,763.8 424.8,761.5M425.6,742.6 425.7,739.5 425.9,736.5 425.9,734.6M426.8,715.3 426.9,712.4 427.1,709.5 427.2,706.5 427.3,703.5 427.5,700.6 427.6,697.6 427.7,694.7 427.9,691.7 428.0,688.8 428.1,686.3M429.0,667.4 429.1,664.5 429.3,661.6 429.4,659.4M430.3,640.5 430.4,637.8 430.5,635.0 430.6,632.5M431.6,613.2 431.7,610.8 431.8,608.0 432.0,605.3 432.1,602.5 432.2,599.8 432.4,597.0 432.5,594.3 432.6,591.6 432.8,588.9 432.9,586.2 433.0,584.2M434.0,565.3 434.1,562.1 434.2,559.5 434.4,557.3M435.3,538.4 435.5,535.3 435.6,532.7 435.8,530.4M436.8,511.1 436.9,508.4 437.1,506.0 437.2,503.5 437.3,501.0 437.5,498.6 437.6,496.1 437.7,493.7 437.9,491.3 438.0,488.9 438.1,486.4 438.3,484.0 438.4,482.1M439.5,463.2 439.6,460.4 439.8,457.3 439.9,455.2M441.0,436.3 441.2,433.2 441.4,430.2 441.5,428.3M442.7,409.0 442.9,406.3 443.1,403.5 443.3,400.7 443.4,397.9 443.6,395.1 443.8,392.3 444.0,389.6 444.1,386.8 444.3,384.1 444.5,381.4 444.6,380.0M445.9,361.1 446.1,358.2 446.3,355.6 446.4,353.1 446.4,353.1M447.8,334.2 448.0,331.2 448.2,328.8 448.4,326.4 448.4,326.2M449.8,306.9 450.1,304.1 450.3,301.3 450.5,298.5 450.7,295.7 451.0,292.9 451.2,290.2 451.4,287.4 451.6,284.7 451.9,282.0 452.1,279.3 452.2,277.9M453.8,259.0 454.1,256.2 454.3,253.7 454.5,251.3 454.6,251.0M456.4,232.1 456.6,229.6 456.9,226.9 457.1,224.3 457.2,224.1M459.2,204.8 459.5,202.2 459.7,199.8 460.0,197.4 460.3,195.0 460.5,192.7 460.8,190.4 461.1,188.1 461.4,185.8 461.6,183.5 461.9,181.0 462.2,178.4 462.6,175.9 462.6,175.8M465.1,156.9 465.4,154.4 465.7,152.2 466.1,149.7 466.2,148.9M469.2,130.0 469.6,127.6 470.0,125.3 470.4,123.0 470.6,122.0M474.4,102.7 474.9,100.5 475.4,98.3 475.9,96.2 476.4,94.2 476.9,92.1 477.5,90.0 478.0,88.0 478.6,85.9 479.2,83.9 479.8,81.9 480.4,79.9 481.0,77.9 481.7,75.9 482.4,74.0 482.5,73.7M493.0,54.8 494.4,53.6 495.9,52.6 497.7,51.8 499.8,51.4 501.0,51.4M518.1,65.8 519.2,67.3 520.1,68.9 521.1,70.5 522.1,72.1 523.0,73.7 523.0,73.8M532.8,93.1 533.6,94.9 534.4,96.7 535.2,98.5 536.0,100.3 536.8,102.0 537.5,103.8 538.3,105.6 539.1,107.4 539.8,109.2 540.6,111.0 541.3,112.9 542.1,114.7 542.9,116.6 543.6,118.5 544.4,120.4 545.1,122.1M552.4,141.0 553.1,142.9 553.8,144.8 554.6,146.7 555.3,148.6 555.4,149.0M562.4,167.9 563.1,169.8 563.8,171.6 564.5,173.5 565.1,175.3 565.3,175.9M572.3,195.2 573.0,197.1 573.6,198.9 574.3,200.8 575.0,202.7 575.7,204.6 576.3,206.4 577.0,208.3 577.7,210.2 578.4,212.1 579.0,213.9 579.7,215.8 580.4,217.7 581.0,219.6 581.7,221.4 582.4,223.3 582.7,224.2M589.5,243.1 590.2,245.0 590.9,246.8 591.5,248.7 592.2,250.6 592.4,251.1M599.3,270.0 600.0,271.9 600.6,273.7 601.3,275.5 602.0,277.4 602.2,278.0M609.3,297.3 610.0,299.1 610.8,301.0 611.5,303.0 612.2,304.9 612.9,306.8 613.6,308.7 614.3,310.6 615.1,312.5 615.8,314.4 616.5,316.3 617.2,318.1 617.9,320.0 618.6,321.9 619.4,323.8 620.1,325.6 620.3,326.3M627.6,345.2 628.4,347.0 629.1,348.8 629.8,350.7 630.5,352.5 630.8,353.2M638.4,372.1 639.1,374.0 639.9,375.8 640.6,377.7 641.4,379.6 641.6,380.1M649.6,399.4 650.4,401.2 651.1,403.0 651.9,404.8 652.6,406.6 653.4,408.4 654.2,410.2 654.9,411.9 655.7,413.7 656.5,415.5 657.2,417.3 658.0,419.0 658.7,420.8 659.5,422.5 660.3,424.3 661.0,426.0 661.8,427.8 662.1,428.4M670.5,447.3 671.3,449.1 672.1,450.9 672.9,452.6 673.7,454.4 674.1,455.3M682.9,474.2 683.7,476.0 684.6,477.7 685.4,479.4 686.2,481.1 686.7,482.2M696.1,501.5 697.0,503.2 697.8,504.9 698.7,506.6 699.5,508.3 700.4,510.0 701.2,511.7 702.1,513.4 702.9,515.0 703.8,516.7 704.6,518.4 705.5,520.0 706.3,521.7 707.2,523.3 708.1,525.1 709.0,526.8 709.9,528.5 710.8,530.2 710.9,530.5M721.0,549.4 721.9,551.0 722.8,552.7 723.7,554.3 724.6,555.9 725.4,557.4M736.0,576.3 737.0,578.0 737.9,579.6 738.9,581.2 739.8,582.8 740.7,584.3M752.2,603.6 753.2,605.2 754.1,606.8 755.1,608.4 756.1,610.0 757.1,611.6 758.1,613.2 759.1,614.8 760.1,616.3 761.0,617.9 762.0,619.5 763.0,621.0 764.0,622.6 765.0,624.1 766.0,625.7 767.0,627.2 767.9,628.7 768.9,630.3 769.9,631.8 770.5,632.6M783.0,651.5 784.1,653.0 785.1,654.5 786.1,656.0 787.2,657.5 788.2,659.0 788.5,659.5M802.0,678.4 803.0,679.9 804.1,681.3 805.2,682.8 806.3,684.3 807.3,685.7 807.8,686.4M822.5,705.7 823.6,707.1 824.8,708.6 825.9,710.0 827.0,711.4 828.1,712.8 829.2,714.2 830.4,715.6 831.5,717.0 832.6,718.4 833.7,719.8 834.8,721.2 836.0,722.6 837.2,724.0 838.3,725.4 839.5,726.8 840.7,728.3 841.8,729.7 843.0,731.1 844.2,732.4 845.3,733.8 846.1,734.7M862.4,753.6 863.7,755.0 864.9,756.3 866.1,757.7 867.3,759.0 868.5,760.3 869.6,761.6M887.3,780.5 888.6,781.8 889.8,783.1 891.1,784.4 892.3,785.6 893.6,786.9 894.8,788.2 895.1,788.5M914.4,807.5 915.7,808.7 917.0,810.0 918.3,811.2 919.6,812.4 920.9,813.6 922.2,814.8 923.5,816.1 924.8,817.3 926.1,818.5 927.5,819.7 928.8,820.9 930.2,822.2 931.5,823.4 932.8,824.6 934.2,825.8 935.5,827.0 936.9,828.2 938.2,829.4 939.6,830.6 940.9,831.8 942.3,833.0 943.4,834.0M962.3,850.1 963.7,851.3 965.1,852.5 966.5,853.6 967.9,854.7 969.3,855.9 970.3,856.7M989.2,871.7 990.6,872.8 992.1,873.9 993.5,875.0 995.0,876.1 996.4,877.2 997.2,877.8M1016.5,892.0 1018.0,893.0 1019.5,894.1 1020.9,895.1 1022.4,896.2 1023.9,897.2 1025.4,898.2 1026.9,899.3 1028.3,900.3 1029.8,901.3 1031.3,902.4 1032.9,903.4 1034.4,904.5 1035.9,905.5 1037.4,906.5 1039.0,907.6 1040.5,908.6 1042.0,909.6 1043.5,910.6 1045.0,911.6 1045.5,912.0M1064.4,924.2 1066.0,925.2 1067.5,926.2 1069.1,927.2 1070.7,928.1 1072.2,929.1 1072.4,929.2M1091.3,940.7 1092.9,941.6 1094.5,942.6 1096.1,943.5 1097.7,944.5 1099.3,945.4M1118.6,956.3 1120.2,957.2 1121.9,958.1 1123.5,959.0 1125.2,959.9 1126.8,960.8 1128.5,961.7 1130.1,962.6 1131.8,963.5 1133.5,964.4 1135.1,965.3 1136.8,966.2 1138.4,967.1 1140.1,967.9 1141.7,968.8 1143.4,969.7 1145.1,970.6 1146.7,971.4 1147.6,971.9M1166.5,981.5 1168.2,982.3 1169.9,983.1 1171.6,984.0 1173.3,984.8 1174.5,985.4M1193.4,994.4 1195.1,995.2 1196.9,996.1 1198.6,996.9 1200.4,997.7 1201.4,998.2M1220.7,1006.9 1222.5,1007.6 1224.2,1008.4 1225.9,1009.2 1227.7,1009.9 1229.4,1010.7 1231.2,1011.4 1232.9,1012.2 1234.7,1013.0 1236.5,1013.7 1238.3,1014.5 1240.1,1015.2 1241.9,1016.0 1243.7,1016.8 1245.5,1017.5 1247.3,1018.3 1249.1,1019.0 1249.7,1019.3M1268.6,1027.0 1270.4,1027.7 1272.2,1028.4 1274.0,1029.1 1275.8,1029.9 1276.6,1030.2M1295.5,1037.5 1297.3,1038.1 1299.2,1038.8 1301.0,1039.5 1302.8,1040.2 1303.5,1040.5M1322.8,1047.5 1324.7,1048.2 1326.5,1048.9 1328.4,1049.5 1330.3,1050.2 1332.2,1050.9 1334.1,1051.5 1336.0,1052.2 1337.8,1052.9 1339.7,1053.5 1341.6,1054.2 1343.5,1054.8 1345.4,1055.5 1347.2,1056.1 1349.1,1056.8 1351.0,1057.4 1351.8,1057.7M1370.7,1064.0 1372.6,1064.6 1374.5,1065.3 1376.5,1065.9 1378.4,1066.5 1378.7,1066.6M1397.6,1072.6 1399.5,1073.2 1401.5,1073.8 1403.4,1074.4 1405.3,1075.0 1405.6,1075.1M1424.9,1081.0 1426.9,1081.6 1428.8,1082.1 1430.8,1082.7 1432.8,1083.3 1434.8,1083.9 1436.7,1084.5 1438.7,1085.0 1440.7,1085.6 1442.6,1086.2 1444.6,1086.7 1446.6,1087.3 1448.6,1087.9 1450.5,1088.4 1452.5,1089.0 1453.9,1089.4M1472.8,1094.7 1474.8,1095.2 1476.7,1095.8 1478.7,1096.3 1480.7,1096.8 1480.8,1096.9M1499.7,1101.9 1501.7,1102.4 1503.7,1103.0 1505.7,1103.5 1507.7,1104.0M1527.0,1108.9 1529.0,1109.4 1531.1,1109.9 1533.1,1110.4 1535.1,1110.9 1537.1,1111.4 1539.1,1111.9 1541.1,1112.4 1543.2,1112.9 1545.2,1113.4 1547.2,1113.9 1549.2,1114.4 1551.2,1114.9 1553.2,1115.4 1555.3,1115.8 1556.0,1116.0M1574.9,1120.5 1576.9,1121.0 1579.0,1121.4 1581.1,1121.9 1582.9,1122.3M1601.8,1126.6 1603.9,1127.1 1605.9,1127.6 1608.0,1128.0 1609.8,1128.4M1629.1,1132.6 1631.2,1133.1 1633.3,1133.5 1635.4,1133.9 1637.5,1134.4 1639.6,1134.8 1641.7,1135.3 1643.8,1135.7 1645.9,1136.2 1648.0,1136.6 1650.1,1137.0 1652.2,1137.5 1654.3,1137.9 1656.4,1138.4 1658.1,1138.7M1677.0,1142.5 1679.1,1142.9 1681.2,1143.4 1683.3,1143.8 1685.0,1144.1M1703.9,1147.8 1705.1,1148.0" fill="none" stroke="#8000ff" stroke-width="7.3" stroke-linecap="round" stroke-linejoin="round"/>
<path d="M374.2,1419.0 376.7,1419.0 379.2,1419.0 381.7,1419.0 384.2,1418.9 386.5,1418.7 388.6,1418.3 390.5,1417.6 392.2,1416.8 393.6,1415.7 394.9,1414.4 396.1,1413.0 397.1,1411.5 398.0,1409.9 398.9,1408.2 399.7,1406.4 400.5,1404.6 401.2,1402.7 401.9,1400.8 402.5,1398.9 403.1,1397.1M407.7,1378.0 408.2,1375.7 408.6,1373.4 409.0,1371.3 409.3,1369.9M412.4,1350.8 412.7,1348.6 413.1,1346.1 413.5,1343.6 413.8,1341.4 414.1,1339.1 414.4,1336.8 414.7,1334.5 415.0,1332.2 415.3,1329.8 415.6,1327.3 416.0,1324.9 416.3,1322.4 416.6,1319.8 416.9,1317.3 417.2,1314.7 417.4,1312.8M419.6,1293.7 419.9,1291.2 420.2,1288.7 420.4,1286.3 420.5,1285.6M422.5,1266.5 422.8,1263.8 423.0,1261.2 423.3,1258.5 423.6,1255.7 423.8,1253.5 424.0,1251.2 424.3,1248.9 424.5,1246.6 424.7,1244.2 424.9,1241.9 425.1,1239.6 425.4,1237.2 425.6,1234.8 425.8,1232.4 426.0,1230.1 426.2,1228.5M427.9,1209.4 428.1,1207.1 428.4,1204.6 428.6,1202.1 428.7,1201.3M430.4,1182.2 430.6,1179.7 430.8,1177.2 431.0,1174.6 431.2,1172.0 431.5,1169.4 431.7,1166.8 431.9,1164.2 432.1,1161.6 432.4,1158.9 432.6,1156.3 432.8,1153.7 433.0,1151.0 433.3,1148.4 433.5,1145.7 433.6,1144.2M435.2,1125.1 435.4,1122.8 435.6,1120.1 435.9,1117.4 435.9,1117.0M437.5,1097.9 437.7,1095.1 437.9,1092.4 438.1,1089.7 438.4,1087.0 438.6,1084.3 438.8,1081.5 439.0,1078.8 439.3,1076.1 439.5,1073.3 439.7,1070.6 439.9,1067.9 440.2,1065.1 440.4,1062.4 440.6,1059.9M442.1,1040.8 442.4,1038.3 442.6,1035.6 442.8,1032.9 442.8,1032.7M444.4,1013.6 444.6,1011.0 444.8,1008.3 445.0,1005.6 445.3,1002.9 445.5,1000.2 445.7,997.5 445.9,994.7 446.2,992.0 446.4,989.3 446.6,986.6 446.8,983.9 447.1,981.2 447.3,978.5 447.5,975.8 447.5,975.6M449.1,956.5 449.3,953.9 449.6,951.3 449.8,948.6 449.8,948.4M451.4,929.3 451.6,927.0 451.9,924.4 452.1,921.8 452.3,919.2 452.5,916.6 452.8,914.0 453.0,911.4 453.2,908.8 453.4,906.3 453.6,903.7 453.9,901.1 454.1,898.6 454.3,896.0 454.5,893.5 454.7,891.3M456.4,872.2 456.6,869.8 456.9,867.3 457.1,864.8 457.2,864.1M458.9,845.0 459.2,842.3 459.4,839.9 459.6,837.5 459.8,835.1 460.1,832.7 460.3,830.4 460.5,828.0 460.7,825.6 461.0,823.3 461.2,820.9 461.4,818.6 461.6,816.2 461.8,813.9 462.1,811.6 462.3,809.2 462.5,807.0M464.4,787.9 464.6,785.6 464.9,782.9 465.2,780.2 465.2,779.8M467.2,760.7 467.4,758.4 467.7,755.9 467.9,753.3 468.2,750.8 468.5,748.3 468.7,745.8 469.0,743.3 469.3,740.8 469.6,738.3 469.8,735.8 470.1,733.4 470.4,730.9 470.6,728.5 470.9,726.1 471.2,723.6 471.3,722.7M473.5,703.6 473.7,701.3 474.0,699.1 474.3,696.8 474.4,695.5M476.7,676.4 477.0,674.0 477.4,671.5 477.7,669.0 478.0,666.5 478.3,664.1 478.6,661.7 478.9,659.3 479.2,656.9 479.5,654.5 479.9,652.1 480.2,649.7 480.5,647.4 480.8,645.1 481.1,642.8 481.4,640.5 481.7,638.4M484.4,619.3 484.8,617.0 485.1,614.6 485.5,612.2 485.6,611.2M488.6,592.1 489.0,589.9 489.4,587.8 489.7,585.6 490.1,583.2 490.5,580.8 490.9,578.5 491.3,576.2 491.7,573.8 492.1,571.6 492.5,569.3 492.9,567.1 493.3,564.9 493.8,562.7 494.2,560.5 494.6,558.4 495.0,556.2 495.4,554.1M499.3,535.0 499.7,532.9 500.2,530.7 500.7,528.5 501.0,526.9M505.7,507.8 506.2,505.8 506.7,503.8 507.3,501.8 507.9,499.7 508.4,497.7 509.0,495.6 509.6,493.6 510.2,491.7 510.8,489.6 511.5,487.6 512.1,485.6 512.7,483.7 513.3,481.8 514.0,479.8 514.7,477.9 515.3,476.0 516.0,474.1 516.7,472.2 517.5,470.3 517.6,469.8M526.5,450.7 527.4,449.1 528.4,447.6 529.4,446.0 530.4,444.4 531.4,443.0 531.7,442.6M549.7,428.1 551.7,427.6 553.9,427.3 556.3,427.1 558.7,427.2 561.0,427.5 563.0,428.0 565.0,428.6 566.9,429.2 568.7,430.0 570.4,430.8 572.1,431.6 573.7,432.6 575.3,433.5 576.8,434.5 578.3,435.5 579.8,436.6 581.2,437.7 582.7,438.8 584.0,440.0 585.4,441.2 586.8,442.3 587.7,443.2M605.6,462.1 606.8,463.5 608.0,464.9 609.1,466.3 610.3,467.7 611.4,469.1 612.3,470.2M627.0,489.3 628.0,490.7 629.1,492.2 630.2,493.7 631.3,495.2 632.3,496.6 633.4,498.1 634.5,499.6 635.6,501.1 636.7,502.6 637.7,504.1 638.8,505.6 639.9,507.1 641.0,508.7 642.0,510.2 643.1,511.7 644.2,513.2 645.3,514.7 646.3,516.3 647.4,517.8 648.4,519.2 649.4,520.7 650.5,522.2 651.5,523.7 652.5,525.1 653.5,526.6 654.0,527.3M667.2,546.4 668.3,547.9 669.3,549.4 670.3,550.9 671.4,552.3 672.4,553.8 672.8,554.5M686.1,573.6 687.2,575.1 688.2,576.6 689.3,578.0 690.3,579.6 691.4,581.1 692.5,582.6 693.6,584.1 694.6,585.7 695.7,587.2 696.8,588.7 697.9,590.2 698.9,591.7 700.0,593.3 701.1,594.8 702.2,596.3 703.2,597.8 704.3,599.3 705.4,600.8 706.5,602.3 707.5,603.8 708.6,605.3 709.7,606.8 710.8,608.3 711.8,609.7 712.9,611.2 713.2,611.6M727.2,630.7 728.3,632.1 729.4,633.6 730.4,635.0 731.5,636.4 732.6,637.8 733.3,638.8M747.9,657.9 749.0,659.3 750.2,660.7 751.3,662.2 752.4,663.6 753.5,665.0 754.6,666.4 755.8,667.8 756.9,669.2 758.0,670.7 759.1,672.1 760.2,673.5 761.4,674.8 762.5,676.2 763.6,677.6 764.7,679.0 765.8,680.4 767.0,681.8 768.2,683.3 769.3,684.7 770.5,686.1 771.7,687.5 772.8,688.9 774.0,690.3 775.2,691.7 776.3,693.1 777.5,694.5 778.6,695.9M794.9,715.0 796.1,716.3 797.3,717.7 798.5,719.1 799.8,720.4 801.0,721.8 802.1,723.1M819.5,742.2 820.7,743.5 821.9,744.8 823.1,746.1 824.4,747.4 825.7,748.8 826.9,750.1 828.2,751.4 829.4,752.7 830.7,754.0 831.9,755.3 833.2,756.6 834.4,757.9 835.7,759.2 837.0,760.5 838.2,761.8 839.5,763.1 840.7,764.4 842.0,765.6 843.2,766.9 844.5,768.2 845.7,769.4 847.0,770.7 848.2,771.9 849.5,773.2 850.8,774.5 852.1,775.8 853.4,777.0 854.7,778.3 856.0,779.6 856.5,780.0M875.6,798.2 876.9,799.4 878.2,800.6 879.6,801.9 880.9,803.1 882.3,804.3 883.6,805.6 883.7,805.6M902.8,822.5 904.1,823.7 905.5,824.9 906.9,826.1 908.3,827.3 909.7,828.4 911.1,829.6 912.5,830.8 913.8,831.9 915.2,833.1 916.6,834.3 918.0,835.4 919.4,836.6 920.8,837.7 922.2,838.9 923.6,840.0 925.0,841.1 926.3,842.3 927.7,843.4 929.1,844.5 930.5,845.6 931.9,846.7 933.3,847.9 934.8,849.0 936.2,850.2 937.6,851.3 939.1,852.4 940.5,853.6 940.8,853.8M959.9,868.4 961.3,869.5 962.8,870.6 964.3,871.6 965.8,872.7 967.3,873.8 968.0,874.3M987.1,888.0 988.5,889.0 990.0,890.0 991.5,891.0 993.0,892.1 994.5,893.1 996.1,894.2 997.6,895.2 999.1,896.3 1000.6,897.3 1002.2,898.3 1003.7,899.3 1005.2,900.3 1006.7,901.4 1008.3,902.4 1009.8,903.4 1011.3,904.4 1012.8,905.4 1014.4,906.4 1015.9,907.4 1017.4,908.4 1018.9,909.3 1020.4,910.3 1022.0,911.3 1023.5,912.3 1025.1,913.3M1044.2,925.2 1045.8,926.1 1047.3,927.1 1048.9,928.0 1050.5,929.0 1052.0,929.9 1052.3,930.0M1071.4,941.2 1073.0,942.1 1074.6,943.0 1076.2,943.9 1077.8,944.8 1079.4,945.7 1081.0,946.6 1082.6,947.5 1084.3,948.4 1085.9,949.3 1087.5,950.2 1089.1,951.1 1090.8,952.0 1092.5,953.0 1094.1,953.9 1095.8,954.8 1097.4,955.6 1099.1,956.5 1100.7,957.4 1102.4,958.3 1104.1,959.2 1105.7,960.1 1107.4,960.9 1109.0,961.8 1109.4,962.0M1128.5,971.8 1130.1,972.6 1131.8,973.5 1133.5,974.3 1135.3,975.2 1136.6,975.8M1155.7,985.1 1157.4,985.9 1159.1,986.7 1160.8,987.5 1162.5,988.3 1164.2,989.1 1166.0,989.9 1167.7,990.7 1169.5,991.6 1171.2,992.4 1173.0,993.2 1174.7,994.0 1176.5,994.8 1178.2,995.5 1180.0,996.3 1181.7,997.1 1183.5,997.9 1185.2,998.7 1187.0,999.5 1188.7,1000.2 1190.5,1001.0 1192.2,1001.8 1193.7,1002.4M1212.8,1010.6 1214.6,1011.4 1216.4,1012.2 1218.1,1012.9 1219.9,1013.6 1220.9,1014.0M1240.0,1021.8 1241.8,1022.5 1243.6,1023.2 1245.3,1024.0 1247.1,1024.7 1249.0,1025.4 1250.8,1026.1 1252.7,1026.8 1254.5,1027.5 1256.3,1028.3 1258.2,1029.0 1260.0,1029.7 1261.8,1030.4 1263.7,1031.1 1265.5,1031.8 1267.4,1032.5 1269.2,1033.2 1271.0,1033.9 1272.9,1034.6 1274.7,1035.2 1276.5,1035.9 1278.0,1036.5M1297.1,1043.4 1298.9,1044.1 1300.8,1044.8 1302.7,1045.4 1304.6,1046.1 1305.2,1046.3M1324.3,1052.9 1326.1,1053.6 1328.0,1054.2 1329.9,1054.9 1331.8,1055.5 1333.7,1056.1 1335.6,1056.7 1337.4,1057.4 1339.3,1058.0 1341.2,1058.6 1343.1,1059.2 1345.0,1059.9 1346.9,1060.5 1348.8,1061.1 1350.7,1061.8 1352.7,1062.4 1354.6,1063.0 1356.5,1063.6 1358.4,1064.2 1360.4,1064.9 1362.3,1065.5M1381.4,1071.4 1383.3,1072.0 1385.2,1072.6 1387.2,1073.2 1389.1,1073.8 1389.5,1073.9M1408.6,1079.6 1410.5,1080.2 1412.5,1080.8 1414.5,1081.3 1416.4,1081.9 1418.4,1082.5 1420.4,1083.1 1422.3,1083.6 1424.3,1084.2 1426.3,1084.7 1428.3,1085.3 1430.2,1085.9 1432.2,1086.4 1434.2,1087.0 1436.2,1087.5 1438.1,1088.1 1440.1,1088.6 1442.1,1089.2 1444.0,1089.7 1446.0,1090.3 1446.6,1090.4M1465.7,1095.6 1467.7,1096.1 1469.7,1096.7 1471.7,1097.2 1473.7,1097.8 1473.8,1097.8M1492.9,1102.7 1494.9,1103.2 1496.9,1103.8 1498.9,1104.3 1500.9,1104.8 1503.0,1105.3 1505.0,1105.8 1507.0,1106.3 1509.0,1106.8 1511.0,1107.3 1513.0,1107.8 1515.1,1108.3 1517.1,1108.8 1519.1,1109.3 1521.1,1109.8 1523.1,1110.3 1525.1,1110.8 1527.2,1111.3 1529.2,1111.8 1530.9,1112.2M1550.0,1116.7 1552.0,1117.2 1554.1,1117.7 1556.2,1118.1 1558.1,1118.6M1577.2,1122.9 1579.2,1123.4 1581.3,1123.9 1583.4,1124.3 1585.4,1124.8 1587.5,1125.2 1589.5,1125.7 1591.6,1126.1 1593.7,1126.6 1595.7,1127.0 1597.8,1127.5 1599.8,1127.9 1601.9,1128.4 1604.0,1128.8 1606.0,1129.3 1608.1,1129.7 1610.1,1130.2 1612.2,1130.6 1614.3,1131.0 1615.2,1131.2M1634.3,1135.2 1636.4,1135.7 1638.5,1136.1 1640.6,1136.5 1642.4,1136.9M1661.5,1140.7 1663.6,1141.1 1665.7,1141.6 1667.8,1142.0 1669.9,1142.4 1672.0,1142.8 1674.1,1143.2 1676.2,1143.6 1678.3,1144.0 1680.4,1144.4 1682.5,1144.8 1684.6,1145.3 1686.7,1145.7 1688.8,1146.1 1690.9,1146.5 1693.0,1146.9 1695.2,1147.3 1697.3,1147.7 1699.4,1148.1 1699.5,1148.1" fill="none" stroke="#8b0000" stroke-width="7.3" stroke-linecap="round" stroke-linejoin="round"/>
<path d="M369.8,1188.8 369.9,1184.8 369.9,1180.8 370.0,1176.8 370.1,1174.5M370.5,1158.1 370.6,1154.5 370.7,1151.1 370.7,1147.9 370.8,1144.7 370.9,1143.8M371.4,1127.4 371.6,1124.6 371.7,1121.6 371.8,1118.7 372.0,1116.0 372.1,1113.4 372.1,1113.1M373.0,1096.7 373.2,1093.8 373.3,1091.4 373.5,1088.9 373.6,1086.3 373.8,1083.6 373.8,1082.4M374.6,1066.0 374.7,1063.2 374.8,1060.2 375.0,1057.2 375.1,1054.1 375.2,1051.7M375.9,1035.3 376.0,1032.5 376.2,1029.5 376.3,1026.4 376.4,1023.3 376.5,1021.0M377.2,1004.6 377.3,1002.2 377.5,998.9 377.6,995.7 377.7,992.4 377.8,990.3M378.5,973.9 378.6,971.3 378.7,968.0 378.9,964.6 379.0,961.2 379.1,959.6M379.7,943.2 379.8,939.8 380.0,936.5 380.1,933.1 380.2,929.8 380.3,928.9M380.9,912.5 381.1,909.8 381.2,906.6 381.3,903.3 381.5,900.1 381.5,898.2M382.2,881.8 382.4,879.0 382.5,875.9 382.6,872.8 382.8,869.8 382.9,867.5M383.6,851.1 383.8,847.8 383.9,845.1 384.1,842.4 384.2,839.8 384.3,837.2 384.3,836.8M385.3,820.4 385.4,817.6 385.6,814.9 385.8,812.2 386.0,809.6 386.2,807.0 386.2,806.1M387.4,789.7 387.6,787.2 387.7,784.7 387.9,782.3 388.1,779.8 388.3,777.3 388.4,775.4M389.6,759.0 389.8,756.1 390.0,753.4 390.2,750.7 390.3,748.0 390.5,745.1 390.5,744.7M391.5,728.3 391.6,725.8 391.7,723.1 391.9,720.4 392.0,717.6 392.1,714.8 392.2,714.0M392.9,697.6 393.1,695.2 393.2,692.5 393.3,689.9 393.5,687.4 393.6,684.9 393.7,683.3M394.7,666.9 394.9,664.2 395.0,661.4 395.2,658.7 395.4,656.0 395.6,653.3 395.6,652.6M396.7,636.2 396.9,633.6 397.1,631.0 397.3,628.3 397.5,625.7 397.6,623.0 397.7,621.9M398.8,605.5 399.0,602.5 399.2,599.9 399.4,597.3 399.6,594.7 399.7,592.1 399.8,591.2M400.9,574.8 401.1,572.0 401.3,569.4 401.5,566.7 401.7,564.1 401.8,561.4 401.9,560.5M403.1,544.1 403.3,541.7 403.5,539.1 403.8,536.6 404.0,534.2 404.2,531.8 404.4,529.8M406.1,513.4 406.4,511.0 406.6,508.8 407.0,506.2 407.3,503.7 407.6,501.1 407.8,499.1M409.4,482.7 409.6,480.0 409.8,477.4 410.0,474.7 410.1,471.9 410.3,469.1 410.4,468.4M411.5,452.0 411.7,449.5 412.0,446.8 412.2,444.1 412.4,441.6 412.6,439.0 412.8,437.7M414.3,421.3 414.6,418.8 414.9,416.3 415.2,413.9 415.4,411.5 415.7,409.2 415.9,407.0M418.0,390.6 418.4,388.1 418.7,385.9 419.1,383.5 419.4,381.1 419.8,378.9 420.1,376.7 420.2,376.3M423.1,359.9 423.4,357.6 423.8,355.3 424.2,353.0 424.5,350.8 424.9,348.6 425.2,346.4 425.4,345.6M428.2,329.2 428.6,326.8 428.9,324.4 429.2,322.0 429.5,319.7 429.8,317.5 430.2,315.1 430.2,314.9M433.2,298.5 433.6,296.3 434.0,294.1 434.4,291.9 434.8,289.7 435.2,287.6 435.6,285.4 435.9,284.2M439.8,267.8 440.4,265.7 440.9,263.6 441.5,261.5 442.1,259.5 442.7,257.5 443.3,255.5 443.9,253.5 443.9,253.5M450.3,237.1 451.0,235.2 451.8,233.4 452.6,231.5 453.3,229.7 454.1,228.0 454.9,226.1 455.7,224.3 456.4,222.8M466.9,206.4 468.3,205.2 469.7,204.1 471.3,203.1 473.0,202.3 474.8,201.7 476.9,201.3 479.4,201.2 481.2,201.3M497.6,210.7 498.9,211.9 500.2,213.2 501.4,214.5 502.6,215.8 503.8,217.2 505.0,218.5 506.2,220.0 507.3,221.4 508.4,222.8 509.5,224.3 510.0,224.9M520.7,241.3 521.7,242.9 522.6,244.5 523.5,246.1 524.5,247.8 525.4,249.5 526.3,251.1 527.2,252.7 528.1,254.3 528.8,255.6M537.5,272.0 538.4,273.7 539.3,275.4 540.2,277.1 541.1,278.8 542.0,280.5 542.9,282.3 543.8,284.0 544.7,285.7 545.0,286.3M553.5,302.7 554.3,304.4 555.2,306.1 556.0,307.8 556.9,309.5 557.7,311.2 558.6,312.9 559.4,314.6 560.3,316.3 560.7,317.0M568.8,333.4 569.7,335.1 570.5,336.8 571.4,338.5 572.2,340.2 573.1,341.9 573.9,343.6 574.8,345.3 575.6,347.0 576.0,347.7M584.3,364.1 585.2,365.8 586.1,367.5 587.0,369.2 587.9,370.9 588.8,372.6 589.7,374.3 590.6,376.0 591.5,377.7 591.9,378.4M600.6,394.8 601.4,396.5 602.3,398.2 603.2,399.9 604.1,401.6 605.0,403.2 605.9,404.9 606.8,406.6 607.7,408.2 608.2,409.1M617.2,425.5 618.1,427.2 619.1,428.9 620.0,430.5 621.0,432.2 621.9,433.8 622.8,435.4 623.7,437.0 624.6,438.7 625.2,439.8M634.3,456.2 635.2,457.9 636.1,459.6 637.0,461.2 637.9,462.8 638.8,464.5 639.7,466.2 640.6,467.8 641.5,469.5 642.0,470.5M650.6,486.9 651.5,488.6 652.4,490.3 653.3,492.0 654.2,493.7 655.1,495.3 656.0,497.0 656.9,498.7 657.8,500.3 658.3,501.2M667.2,517.6 668.1,519.3 669.0,520.9 669.9,522.5 670.8,524.2 671.7,525.8 672.6,527.4 673.5,529.0 674.4,530.7 675.1,531.9M684.4,548.3 685.3,549.9 686.3,551.6 687.2,553.2 688.1,554.8 689.1,556.4 690.0,558.0 691.0,559.6 691.9,561.3 692.7,562.6M702.5,579.0 703.5,580.6 704.4,582.2 705.4,583.8 706.4,585.4 707.4,587.0 708.4,588.6 709.4,590.2 710.4,591.7 711.3,593.3M721.8,609.7 722.9,611.3 723.9,612.9 724.9,614.4 726.0,616.0 727.0,617.5 728.0,619.0 729.0,620.6 730.1,622.1 731.1,623.7 731.3,624.0M742.6,640.4 743.6,641.9 744.7,643.4 745.8,644.9 746.8,646.4 747.9,648.0 749.0,649.5 750.1,651.0 751.1,652.5 752.2,654.0 752.7,654.7M764.8,671.1 765.9,672.6 767.0,674.0 768.1,675.5 769.2,677.0 770.4,678.5 771.5,680.0 772.6,681.4 773.7,682.9 774.8,684.3 775.7,685.4M788.7,701.8 789.8,703.2 790.9,704.6 792.1,706.0 793.2,707.4 794.4,708.8 795.5,710.2 796.7,711.6 797.9,713.0 799.0,714.4 800.2,715.8 800.4,716.1M814.5,732.5 815.7,733.9 816.9,735.2 818.1,736.6 819.3,738.0 820.5,739.4 821.7,740.7 822.9,742.1 824.1,743.4 825.3,744.7 826.6,746.1 827.2,746.8M842.5,763.2 843.7,764.5 845.0,765.8 846.2,767.1 847.5,768.4 848.7,769.7 850.0,771.0 851.2,772.3 852.5,773.6 853.8,774.8 855.0,776.1 856.3,777.4 856.4,777.5M872.8,793.6 874.1,794.8 875.4,796.1 876.7,797.3 878.0,798.6 879.3,799.8 880.6,801.0 881.9,802.2 883.2,803.4 884.4,804.6 885.7,805.8 887.0,807.1 887.1,807.1M903.5,821.8 904.8,823.0 906.2,824.2 907.5,825.4 908.9,826.6 910.2,827.7 911.6,828.9 913.0,830.1 914.4,831.3 915.8,832.5 917.2,833.7 917.8,834.2M934.2,847.7 935.6,848.9 937.0,850.0 938.4,851.1 939.8,852.3 941.2,853.4 942.7,854.5 944.1,855.7 945.5,856.8 947.0,857.9 948.4,859.0 948.5,859.1M964.9,871.6 966.3,872.7 967.8,873.7 969.2,874.8 970.7,875.9 972.2,877.0 973.7,878.1 975.1,879.1 976.6,880.2 978.1,881.3 979.2,882.1M995.6,893.6 997.1,894.6 998.6,895.7 1000.1,896.7 1001.6,897.7 1003.2,898.7 1004.7,899.8 1006.2,900.8 1007.7,901.8 1009.2,902.8 1009.9,903.3M1026.3,913.9 1027.8,914.9 1029.4,915.9 1030.9,916.9 1032.5,917.9 1034.1,918.9 1035.6,919.8 1037.2,920.8 1038.8,921.8 1040.3,922.8 1040.6,922.9M1057.0,932.8 1058.6,933.8 1060.2,934.7 1061.8,935.7 1063.4,936.6 1065.0,937.5 1066.6,938.5 1068.3,939.4 1069.9,940.3 1071.3,941.1M1087.7,950.4 1089.3,951.3 1091.0,952.2 1092.6,953.1 1094.3,954.0 1096.0,954.9 1097.6,955.8 1099.3,956.7 1100.9,957.6 1102.0,958.1M1118.4,966.7 1120.1,967.6 1121.7,968.4 1123.4,969.3 1125.0,970.1 1126.7,971.0 1128.4,971.8 1130.1,972.7 1131.8,973.6 1132.7,974.0M1149.1,982.0 1150.8,982.8 1152.5,983.6 1154.2,984.5 1155.9,985.3 1157.6,986.1 1159.3,986.9 1161.0,987.7 1162.7,988.5 1163.4,988.8M1179.8,996.3 1181.5,997.1 1183.2,997.8 1185.0,998.6 1186.7,999.4 1188.5,1000.2 1190.2,1000.9 1192.0,1001.7 1193.7,1002.5 1194.1,1002.6M1210.5,1009.7 1212.2,1010.4 1214.0,1011.2 1215.8,1011.9 1217.6,1012.7 1219.4,1013.4 1221.2,1014.2 1223.0,1014.9 1224.8,1015.6M1241.2,1022.3 1243.0,1023.0 1244.8,1023.7 1246.6,1024.4 1248.5,1025.1 1250.3,1025.9 1252.2,1026.6 1254.0,1027.3 1255.5,1027.9M1271.9,1034.1 1273.7,1034.8 1275.6,1035.5 1277.4,1036.1 1279.2,1036.8 1281.1,1037.5 1282.9,1038.2 1284.7,1038.9 1286.2,1039.4M1302.6,1045.3 1304.5,1045.9 1306.3,1046.6 1308.2,1047.2 1310.1,1047.9 1312.0,1048.6 1313.9,1049.2 1315.7,1049.9 1316.9,1050.2M1333.3,1055.8 1335.1,1056.4 1337.0,1057.0 1338.9,1057.7 1340.8,1058.3 1342.7,1058.9 1344.6,1059.5 1346.5,1060.2 1347.6,1060.5M1364.0,1065.8 1365.9,1066.4 1367.8,1067.0 1369.7,1067.6 1371.7,1068.2 1373.6,1068.8 1375.5,1069.4 1377.4,1070.0 1378.3,1070.2M1394.7,1075.2 1396.6,1075.8 1398.6,1076.4 1400.5,1076.9 1402.5,1077.5 1404.4,1078.1 1406.4,1078.7 1408.4,1079.3 1409.0,1079.4M1425.4,1084.2 1427.3,1084.7 1429.3,1085.3 1431.3,1085.8 1433.2,1086.4 1435.2,1086.9 1437.2,1087.5 1439.2,1088.0 1439.7,1088.2M1456.1,1092.7 1458.1,1093.2 1460.0,1093.7 1462.1,1094.3 1464.1,1094.8 1466.1,1095.4 1468.1,1095.9 1470.1,1096.4 1470.4,1096.5M1486.8,1100.8 1488.8,1101.3 1490.8,1101.8 1492.8,1102.3 1494.8,1102.8 1496.8,1103.3 1498.8,1103.8 1500.9,1104.3 1501.1,1104.4M1517.5,1108.5 1519.5,1109.0 1521.5,1109.4 1523.5,1109.9 1525.5,1110.4 1527.6,1110.9 1529.6,1111.4 1531.7,1111.9 1531.8,1111.9M1548.2,1115.8 1550.2,1116.3 1552.3,1116.8 1554.4,1117.2 1556.4,1117.7 1558.5,1118.2 1560.5,1118.6 1562.5,1119.1M1578.9,1122.8 1580.9,1123.2 1583.0,1123.7 1585.1,1124.2 1587.1,1124.6 1589.2,1125.1 1591.2,1125.5 1593.2,1125.9M1609.6,1129.5 1611.7,1129.9 1613.8,1130.3 1615.9,1130.8 1618.0,1131.2 1620.1,1131.7 1622.2,1132.1 1623.9,1132.5M1640.3,1135.8 1642.4,1136.2 1644.5,1136.7 1646.6,1137.1 1648.7,1137.5 1650.8,1137.9 1652.9,1138.4 1654.6,1138.7M1671.0,1141.9 1673.1,1142.3 1675.2,1142.7 1677.3,1143.1 1679.4,1143.5 1681.5,1143.9 1683.6,1144.3 1685.3,1144.7M1701.7,1147.7 1703.8,1148.1 1705.1,1148.4" fill="none" stroke="#ff00ff" stroke-width="7.3" stroke-linecap="round" stroke-linejoin="round"/>
<path d="M390.5,745.1 391.4,729.4M393.6,684.1 394.5,669.2M397.7,622.3 398.6,609.1M404.4,530.4 405.3,521.4 406.1,512.9M412.7,438.5 413.6,428.9" fill="none" stroke="#ff00ff" stroke-width="7.3" stroke-linecap="round"/>
<path d="M396.3,1419.0 L397.4,1394.9 L398.5,1370.3 L399.7,1345.4 L400.8,1320.0 L401.9,1294.0 L403.0,1267.4 L404.1,1240.9 L405.3,1214.9 L406.4,1189.6 L407.5,1164.7 L408.6,1139.8 L409.7,1114.9 L410.9,1089.5 L412.0,1064.2 L413.1,1039.6 L414.2,1016.4 L415.3,993.5 L416.5,970.8 L417.6,948.3 L418.7,926.4 L419.8,905.0 L420.9,884.4 L422.1,864.7 L423.2,846.1 L424.3,828.6 L425.4,812.6 L426.5,798.6 L427.7,785.5 L428.8,771.8 L429.9,756.4 L431.0,740.3 L432.1,724.7 L433.3,710.7 L434.4,697.8 L435.5,685.2 L436.6,672.5 L437.7,658.9 L438.9,644.9 L440.0,631.5 L441.1,618.5 L442.2,605.9 L443.3,593.6 L444.5,581.7 L445.6,570.1 L446.7,558.9 L447.8,548.0 L448.9,537.4 L450.1,527.1 L451.2,517.2 L452.3,507.6 L453.4,498.2 L454.5,489.2 L455.7,480.4 L456.8,472.0 L457.9,463.8 L459.0,455.9 L460.1,448.3 L461.3,441.0 L462.4,433.9 L463.5,427.1 L464.6,420.6 L465.7,414.3 L466.9,408.2 L468.0,402.3 L469.1,396.7 L470.2,391.3 L471.3,386.1 L472.5,381.1 L473.6,376.3 L474.7,371.7 L475.8,367.3 L476.9,363.1 L478.1,359.1 L479.2,355.2 L480.3,351.6 L481.4,348.2 L482.5,344.9 L483.7,341.8 L484.8,338.8 L485.9,336.1 L487.0,333.4 L488.2,330.9 L489.3,328.6 L490.4,326.4 L491.5,324.3 L492.6,322.4 L493.8,320.6 L494.9,318.9 L496.0,317.3 L497.1,315.8 L498.2,314.5 L499.4,313.3 L500.5,312.2 L501.6,311.1 L502.7,310.2 L503.8,309.4 L505.0,308.7 L506.1,308.1 L507.2,307.5 L508.3,307.0 L509.4,306.6 L510.6,306.3 L511.7,306.0 L512.8,305.9 L513.9,305.8 L515.0,305.7 L516.2,305.7 L517.3,305.8 L518.4,306.0 L519.5,306.2 L520.6,306.5 L521.8,306.8 L522.9,307.2 L524.0,307.7 L525.1,308.2 L526.2,308.8 L527.4,309.4 L528.5,310.1 L529.6,310.8 L530.7,311.6 L531.8,312.4 L533.0,313.3 L534.1,314.2 L535.2,315.1 L536.3,316.1 L537.4,317.1 L538.6,318.2 L539.7,319.3 L540.8,320.4 L541.9,321.6 L543.0,322.8 L544.2,324.0 L545.3,325.3 L546.4,326.6 L547.5,327.9 L548.6,329.2 L549.8,330.6 L550.9,332.0 L552.0,333.4 L553.1,334.9 L554.2,336.4 L555.4,337.9 L556.5,339.4 L557.6,340.9 L558.7,342.5 L559.8,344.0 L561.0,345.6 L562.1,347.3 L563.2,348.9 L564.3,350.6 L565.4,352.2 L566.6,353.9 L567.7,355.6 L568.8,357.3 L569.9,359.1 L571.0,360.8 L572.2,362.6 L573.3,364.3 L574.4,366.1 L575.5,367.9 L576.6,369.7 L577.8,371.5 L578.9,373.3 L580.0,375.2 L581.1,377.0 L582.3,378.9 L583.4,380.7 L584.5,382.6 L585.6,384.5 L586.7,386.3 L587.9,388.2 L589.0,390.1 L590.1,392.0 L591.2,393.9 L592.3,395.9 L593.5,397.8 L594.6,399.7 L595.7,401.6 L596.8,403.6 L597.9,405.5 L599.1,407.4 L600.2,409.3 L601.3,411.3 L602.4,413.2 L603.5,415.1 L604.7,417.1 L605.8,419.0 L606.9,420.9 L608.0,422.9 L609.1,424.8 L610.3,426.7 L611.4,428.7 L612.5,430.6 L613.6,432.5 L614.7,434.5 L615.9,436.4 L617.0,438.4 L618.1,440.3 L619.2,442.2 L620.3,444.2 L621.5,446.1 L622.6,448.1 L623.7,450.0 L624.8,452.0 L625.9,453.9 L627.1,455.9 L628.2,457.8 L629.3,459.7 L630.4,461.7 L631.5,463.6 L632.7,465.6 L633.8,467.6 L634.9,469.5 L636.0,471.5 L637.1,473.5 L638.3,475.4 L639.4,477.4 L640.5,479.4 L641.6,481.3 L642.7,483.3 L643.9,485.3 L645.0,487.2 L646.1,489.2 L647.2,491.2 L648.3,493.2 L649.5,495.2 L650.6,497.1 L651.7,499.1 L652.8,501.1 L653.9,503.0 L655.1,505.0 L656.2,506.9 L657.3,508.9 L658.4,510.9 L659.5,512.8 L660.7,514.8 L661.8,516.8 L662.9,518.7 L664.0,520.7 L665.1,522.6 L666.3,524.6 L667.4,526.5 L668.5,528.4 L669.6,530.4 L670.8,532.3 L671.9,534.2 L673.0,536.2 L674.1,538.1 L675.2,540.0 L676.4,542.0 L677.5,543.9 L678.6,545.8 L679.7,547.6 L680.8,549.5 L682.0,551.4 L683.1,553.3 L684.2,555.2 L685.3,557.1 L686.4,559.0 L687.6,560.8 L688.7,562.7 L689.8,564.6 L690.9,566.4 L692.0,568.2 L693.2,570.1 L694.3,571.9 L695.4,573.7 L696.5,575.5 L697.6,577.4 L698.8,579.2 L699.9,581.0 L701.0,582.8 L702.1,584.6 L703.2,586.4 L704.4,588.1 L705.5,589.9 L706.6,591.6 L707.7,593.4 L708.8,595.1 L710.0,596.9 L711.1,598.6 L712.2,600.3 L713.3,602.1 L714.4,603.8 L715.6,605.5 L716.7,607.1 L717.8,608.8 L718.9,610.5 L719.3,611.0 L723.8,617.6 L728.2,624.1 L732.7,630.5 L737.2,636.8 L741.7,643.1 L746.2,649.2 L750.6,655.3 L755.1,661.3 L759.6,667.2 L764.1,673.1 L768.6,678.8 L773.1,684.5 L777.5,690.2 L782.0,695.7 L786.5,701.1 L791.0,706.6 L795.5,711.9 L799.9,717.1 L804.4,722.4 L808.9,727.4 L813.4,732.5 L817.9,737.5 L822.3,742.4 L826.8,747.3 L831.3,752.1 L835.8,756.8 L840.3,761.6 L844.7,766.1 L849.2,770.7 L853.7,775.2 L858.2,779.6 L862.7,784.0 L867.2,788.4 L871.6,792.6 L876.1,796.9 L880.6,801.0 L885.1,805.1 L889.6,809.2 L894.0,813.3 L898.5,817.2 L903.0,821.2 L907.5,825.0 L912.0,828.9 L916.4,832.7 L920.9,836.4 L925.4,840.1 L929.9,843.8 L934.4,847.3 L938.8,850.9 L943.3,854.4 L947.8,857.9 L952.3,861.4 L956.8,864.8 L961.3,868.1 L965.7,871.5 L970.2,874.7 L974.7,878.0 L979.2,881.2 L983.7,884.4 L988.1,887.5 L992.6,890.7 L997.1,893.7 L1001.6,896.7 L1006.1,899.8 L1010.5,902.7 L1015.0,905.7 L1019.5,908.6 L1024.0,911.4 L1028.5,914.3 L1033.0,917.1 L1037.4,919.9 L1041.9,922.7 L1046.4,925.4 L1050.9,928.1 L1055.4,930.8 L1059.8,933.4 L1064.3,936.0 L1068.8,938.6 L1073.3,941.1 L1077.8,943.7 L1082.2,946.2 L1086.7,948.7 L1091.2,951.1 L1095.7,953.6 L1100.2,956.0 L1104.6,958.4 L1109.1,960.7 L1113.6,963.1 L1118.1,965.4 L1122.6,967.7 L1127.1,969.9 L1131.5,972.2 L1136.0,974.4 L1140.5,976.6 L1145.0,978.8 L1149.5,981.0 L1153.9,983.1 L1158.4,985.2 L1162.9,987.3 L1167.4,989.4 L1171.9,991.5 L1176.3,993.5 L1180.8,995.5 L1185.3,997.5 L1189.8,999.5 L1194.3,1001.5 L1198.7,1003.4 L1203.2,1005.4 L1207.7,1007.3 L1212.2,1009.2 L1216.7,1011.1 L1221.2,1012.9 L1225.6,1014.8 L1230.1,1016.6 L1234.6,1018.4 L1239.1,1020.2 L1243.6,1022.0 L1248.0,1023.8 L1252.5,1025.5 L1257.0,1027.3 L1261.5,1029.0 L1266.0,1030.7 L1270.4,1032.4 L1274.9,1034.1 L1279.4,1035.7 L1283.9,1037.4 L1288.4,1039.0 L1292.8,1040.6 L1297.3,1042.2 L1301.8,1043.8 L1306.3,1045.4 L1310.8,1047.0 L1315.3,1048.5 L1319.7,1050.1 L1324.2,1051.6 L1328.7,1053.1 L1333.2,1054.6 L1337.7,1056.1 L1342.1,1057.6 L1346.6,1059.1 L1351.1,1060.5 L1355.6,1062.0 L1360.1,1063.4 L1364.5,1064.8 L1369.0,1066.3 L1373.5,1067.7 L1378.0,1069.0 L1382.5,1070.4 L1386.9,1071.8 L1391.4,1073.1 L1395.9,1074.5 L1400.4,1075.8 L1404.9,1077.2 L1409.4,1078.5 L1413.8,1079.8 L1418.3,1081.1 L1422.8,1082.4 L1427.3,1083.6 L1431.8,1084.9 L1436.2,1086.2 L1440.7,1087.4 L1445.2,1088.6 L1449.7,1089.9 L1454.2,1091.1 L1458.6,1092.3 L1463.1,1093.5 L1467.6,1094.7 L1472.1,1095.9 L1476.6,1097.1 L1481.0,1098.2 L1485.5,1099.4 L1490.0,1100.5 L1494.5,1101.7 L1499.0,1102.8 L1503.5,1103.9 L1507.9,1105.1 L1512.4,1106.2 L1516.9,1107.3 L1521.4,1108.4 L1525.9,1109.4 L1530.3,1110.5 L1534.8,1111.6 L1539.3,1112.7 L1543.8,1113.7 L1548.3,1114.8 L1552.7,1115.8 L1557.2,1116.8 L1561.7,1117.9 L1566.2,1118.9 L1570.7,1119.9 L1575.2,1120.9 L1579.6,1121.9 L1584.1,1122.9 L1588.6,1123.9 L1593.1,1124.9 L1597.6,1125.8 L1602.0,1126.8 L1606.5,1127.8 L1611.0,1128.7 L1615.5,1129.7 L1620.0,1130.6 L1624.4,1131.6 L1628.9,1132.5 L1633.4,1133.4 L1637.9,1134.3 L1642.4,1135.2 L1646.8,1136.1 L1651.3,1137.0 L1655.8,1137.9 L1660.3,1138.8 L1664.8,1139.7 L1669.3,1140.6 L1673.7,1141.4 L1678.2,1142.3 L1682.7,1143.2 L1687.2,1144.0 L1691.7,1144.9 L1696.1,1145.7 L1700.6,1146.5 L1705.1,1147.4" fill="none" stroke="#ff8000" stroke-width="7" stroke-linecap="round" stroke-linejoin="round"/>
</g>
<g stroke="#000" stroke-width="4" fill="none" stroke-linecap="round">
<path d="M360.8,1419.0v-27M360.8,31.0v27M405.6,1419.0v-14M405.6,31.0v14M450.4,1419.0v-14M450.4,31.0v14M495.2,1419.0v-14M495.2,31.0v14M540.0,1419.0v-14M540.0,31.0v14M584.9,1419.0v-27M584.9,31.0v27M629.7,1419.0v-14M629.7,31.0v14M674.5,1419.0v-14M674.5,31.0v14M719.3,1419.0v-14M719.3,31.0v14M764.1,1419.0v-14M764.1,31.0v14M808.9,1419.0v-27M808.9,31.0v27M853.7,1419.0v-14M853.7,31.0v14M898.5,1419.0v-14M898.5,31.0v14M943.3,1419.0v-14M943.3,31.0v14M988.1,1419.0v-14M988.1,31.0v14M1033.0,1419.0v-27M1033.0,31.0v27M1077.8,1419.0v-14M1077.8,31.0v14M1122.6,1419.0v-14M1122.6,31.0v14M1167.4,1419.0v-14M1167.4,31.0v14M1212.2,1419.0v-14M1212.2,31.0v14M1257.0,1419.0v-27M1257.0,31.0v27M1301.8,1419.0v-14M1301.8,31.0v14M1346.6,1419.0v-14M1346.6,31.0v14M1391.4,1419.0v-14M1391.4,31.0v14M1436.2,1419.0v-14M1436.2,31.0v14M1481.0,1419.0v-27M1481.0,31.0v27M1525.9,1419.0v-14M1525.9,31.0v14M1570.7,1419.0v-14M1570.7,31.0v14M1615.5,1419.0v-14M1615.5,31.0v14M1660.3,1419.0v-14M1660.3,31.0v14M1705.1,1419.0v-27M1705.1,31.0v27M316.5,1419.0h27M1728.0,1419.0h-27M316.5,1306.2h14M1728.0,1306.2h-14M316.5,1193.3h27M1728.0,1193.3h-27M316.5,1080.5h14M1728.0,1080.5h-14M316.5,967.6h27M1728.0,967.6h-27M316.5,854.8h14M1728.0,854.8h-14M316.5,741.9h27M1728.0,741.9h-27M316.5,629.1h14M1728.0,629.1h-14M316.5,516.2h27M1728.0,516.2h-27M316.5,403.4h14M1728.0,403.4h-14M316.5,290.5h27M1728.0,290.5h-27M316.5,177.6h14M1728.0,177.6h-14M316.5,64.8h27M1728.0,64.8h-27"/>
<rect x="316.5" y="31.0" width="1411.5" height="1388.0" stroke-linejoin="miter"/>
</g>
<g font-size="74.5" text-anchor="middle" letter-spacing="-0.6">
<text x="362.0" y="1506.5">0</text>
<text x="586.1" y="1506.5">50</text>
<text x="810.1" y="1506.5">100</text>
<text x="1034.2" y="1506.5">150</text>
<text x="1258.2" y="1506.5">200</text>
<text x="1482.2" y="1506.5">250</text>
<text x="1706.3" y="1506.5">300</text>
</g>
<text x="194.2" y="1439.8" font-size="74.5" letter-spacing="-0.03" xml:space="preserve">0.0</text>
<text x="194.2" y="1214.1" font-size="74.5" letter-spacing="0.61" xml:space="preserve">0.2</text>
<text x="194.2" y="988.4" font-size="74.5" letter-spacing="-0.86" xml:space="preserve">0.4</text>
<text x="194.2" y="762.7" font-size="74.5" letter-spacing="-0.33" xml:space="preserve">0.6</text>
<text x="194.2" y="537.0" font-size="74.5" letter-spacing="-0.03" xml:space="preserve">0.8</text>
<text x="196.9" y="311.3" font-size="74.5" letter-spacing="-0.92" xml:space="preserve">1.0</text>
<text x="196.9" y="85.6" font-size="74.5" letter-spacing="-0.28" xml:space="preserve">1.2</text>
<text x="939.0" y="1627.2" font-size="92" font-style="italic" xml:space="preserve">T</text>
<text x="994.0" y="1627.2" font-size="92" xml:space="preserve">,</text>
<text x="1061.2" y="1627.2" font-size="92" xml:space="preserve">K</text>
<g transform="translate(109.5,1000) rotate(-90)">
<text transform="translate(-11.3,-3.0) scale(1.288,1.082)" font-size="100" font-style="italic" style="stroke-width:0.1px">χ</text>
<text x="37.1" y="39.2" font-size="78" xml:space="preserve">p</text>
<text x="78.1" y="0.0" font-size="92" xml:space="preserve">,</text>
<text x="127.2" y="0.0" font-size="92" letter-spacing="-1.31" xml:space="preserve">10</text>
<text x="215.1" y="-29.5" font-size="72" xml:space="preserve">−</text>
<text x="255.2" y="-36.5" font-size="72" xml:space="preserve">2</text>
<text x="314.2" y="-0.5" font-size="92" letter-spacing="0.73" xml:space="preserve">emu/mol</text>
</g>
<text x="1174.5" y="146.4" font-size="67.5" letter-spacing="0.01" xml:space="preserve">dimers:</text>
<path d="M991.6,215.3H1142" stroke="#8000ff" stroke-width="7" stroke-linecap="round" fill="none" stroke-dasharray="29 18.9 8 18.9 8 19.3"/>
<text transform="translate(1158.5,237.3) scale(1.260,1.04)" font-size="67.5" style="stroke:#fff;stroke-width:0.8px">α</text>
<text transform="translate(1197.45,240.90) scale(1.005,0.842)" font-size="73.0" font-weight="bold" style="stroke-width:0.00px">=</text>
<text x="1233.5" y="237.3" font-size="67.5" letter-spacing="-1.36" xml:space="preserve">0;</text>
<text x="1333.8" y="237.3" font-size="67.5" font-style="italic" style="stroke-width:1.6px" xml:space="preserve">J</text>
<text x="1365.2" y="237.3" font-size="67.5" style="stroke-width:2.2px" xml:space="preserve">/</text>
<text x="1383.1" y="237.3" font-size="67.5" font-style="italic" xml:space="preserve">k</text>
<text x="1414.0" y="262.5" font-size="51" xml:space="preserve">B</text>
<text transform="translate(1446.25,239.62) scale(0.985,0.837)" font-size="73.0" font-weight="bold" style="stroke-width:1.68px">=</text>
<text x="1483.8" y="237.3" font-size="67.5" letter-spacing="0.83" xml:space="preserve">50 K</text>
<path d="M991.6,332.3H1142" stroke="#8b0000" stroke-width="7" stroke-linecap="round" fill="none" stroke-dasharray="38 19.1 8.1 19.1"/>
<text transform="translate(1158.5,353) scale(1.260,1.04)" font-size="67.5" style="stroke:#fff;stroke-width:0.8px">α</text>
<text transform="translate(1197.45,356.60) scale(1.005,0.842)" font-size="73.0" font-weight="bold" style="stroke-width:0.00px">=</text>
<text x="1233.5" y="353.0" font-size="67.5" letter-spacing="-1.36" xml:space="preserve">0;</text>
<text x="1333.8" y="353.0" font-size="67.5" font-style="italic" style="stroke-width:1.6px" xml:space="preserve">J</text>
<text x="1365.2" y="353.0" font-size="67.5" style="stroke-width:2.2px" xml:space="preserve">/</text>
<text x="1383.1" y="353.0" font-size="67.5" font-style="italic" xml:space="preserve">k</text>
<text x="1414.0" y="378.2" font-size="51" xml:space="preserve">B</text>
<text transform="translate(1446.25,355.32) scale(0.985,0.837)" font-size="73.0" font-weight="bold" style="stroke-width:1.68px">=</text>
<text x="1485.1" y="353.0" font-size="67.5" letter-spacing="0.41" xml:space="preserve">70 K</text>
<text x="1159.3" y="462.3" font-size="67.5" letter-spacing="-0.19" xml:space="preserve">alt. chains:</text>
<path d="M991.6,531.3H1142" stroke="#ff00ff" stroke-width="7" stroke-linecap="round" fill="none" stroke-dasharray="14.3 16.4"/>
<text transform="translate(1158.5,553.7) scale(1.260,1.04)" font-size="67.5" style="stroke:#fff;stroke-width:0.8px">α</text>
<text transform="translate(1197.45,557.30) scale(1.005,0.842)" font-size="73.0" font-weight="bold" style="stroke-width:0.00px">=</text>
<text x="1233.5" y="553.7" font-size="67.5" letter-spacing="-2.19" xml:space="preserve">0.9;</text>
<text x="1345.4" y="553.7" font-size="67.5" font-style="italic" style="stroke-width:1.6px" xml:space="preserve">J</text>
<text x="1376.9" y="553.7" font-size="67.5" style="stroke-width:2.2px" xml:space="preserve">/</text>
<text x="1394.7" y="553.7" font-size="67.5" font-style="italic" xml:space="preserve">k</text>
<text x="1425.6" y="578.9" font-size="51" xml:space="preserve">B</text>
<text transform="translate(1459.26,556.02) scale(0.980,0.837)" font-size="73.0" font-weight="bold" style="stroke-width:1.68px">=</text>
<text x="1498.3" y="553.7" font-size="67.5" letter-spacing="0.23" xml:space="preserve">43 K</text>
<path d="M991.6,649.5H1142" stroke="#ff8000" stroke-width="7" stroke-linecap="round" fill="none"/>
<text transform="translate(1158.5,671) scale(1.260,1.04)" font-size="67.5" style="stroke:#fff;stroke-width:0.8px">α</text>
<text transform="translate(1197.45,674.60) scale(1.005,0.842)" font-size="73.0" font-weight="bold" style="stroke-width:0.00px">=</text>
<text x="1233.5" y="671.0" font-size="67.5" letter-spacing="-2.19" xml:space="preserve">0.5;</text>
<text x="1345.4" y="671.0" font-size="67.5" font-style="italic" style="stroke-width:1.6px" xml:space="preserve">J</text>
<text x="1376.9" y="671.0" font-size="67.5" style="stroke-width:2.2px" xml:space="preserve">/</text>
<text x="1394.7" y="671.0" font-size="67.5" font-style="italic" xml:space="preserve">k</text>
<text x="1425.6" y="696.2" font-size="51" xml:space="preserve">B</text>
<text transform="translate(1459.26,673.32) scale(0.980,0.837)" font-size="73.0" font-weight="bold" style="stroke-width:1.68px">=</text>
<text x="1496.5" y="671.0" font-size="67.5" letter-spacing="0.41" xml:space="preserve">55.4 K</text>
<path d="M1091,1206.5H1141M1194,1206.5H1243" stroke="#ff0000" stroke-width="2.6" fill="none"/>
<circle cx="1167" cy="1206.5" r="11.6" fill="#fff" stroke="#ff0000" stroke-width="3.5"/>
<path d="M1091,1297.3H1141M1194,1297.3H1243" stroke="#008000" stroke-width="2.6" fill="none"/>
<circle cx="1167" cy="1297.3" r="11.5" fill="#008000"/>
<text x="1259.9" y="1229.0" font-size="74.5" font-style="italic" xml:space="preserve">H</text>
<text transform="translate(1329.14,1232.68) scale(0.956,0.864)" font-size="73.0" font-weight="bold" style="stroke-width:1.93px">=</text>
<text x="1385.3" y="1229.0" font-size="67.5" letter-spacing="-0.44" xml:space="preserve">1.0 kOe</text>
<text x="1259.9" y="1319.8" font-size="74.5" font-style="italic" xml:space="preserve">H</text>
<text transform="translate(1329.14,1323.48) scale(0.956,0.864)" font-size="73.0" font-weight="bold" style="stroke-width:1.93px">=</text>
<text x="1385.3" y="1319.8" font-size="67.5" letter-spacing="-0.44" xml:space="preserve">10  kOe</text>
</svg></body></html>
